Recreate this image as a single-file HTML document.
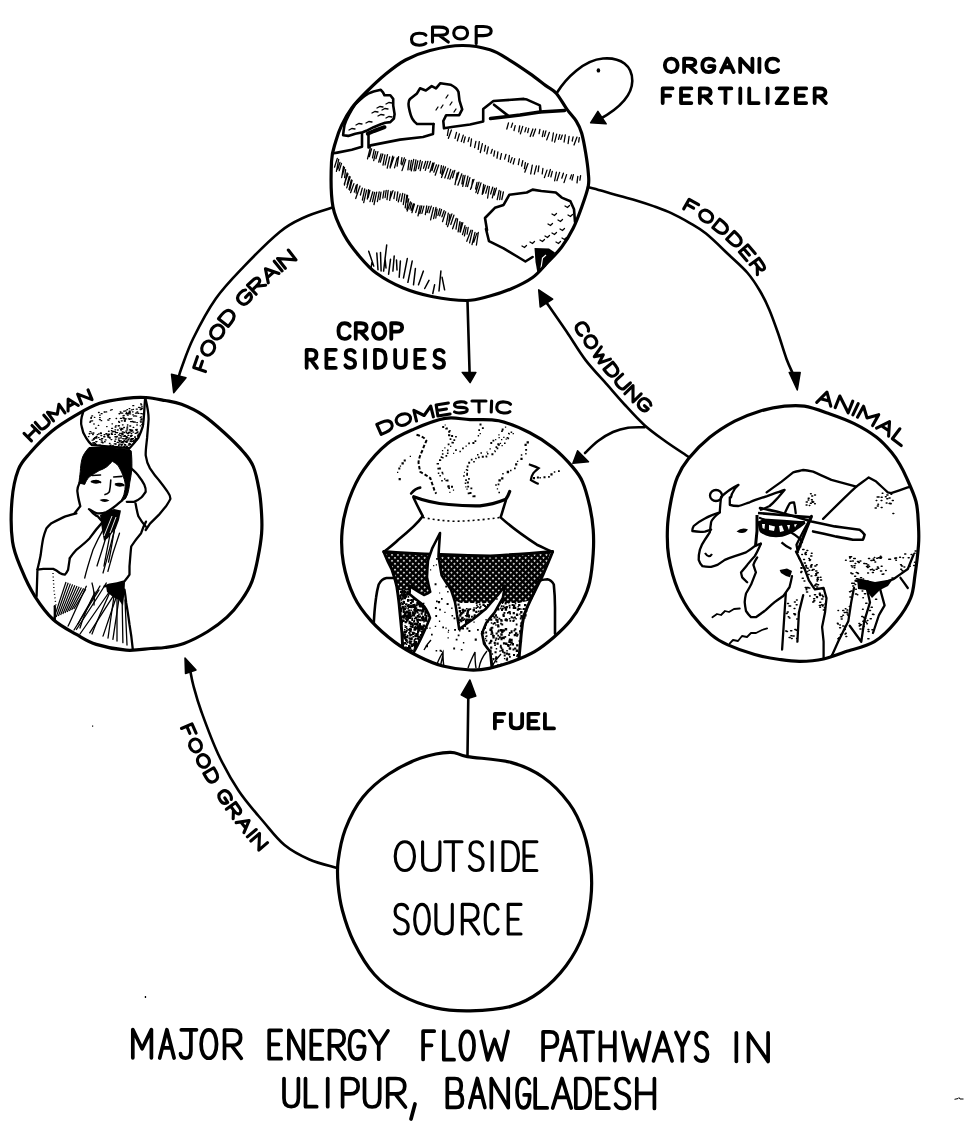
<!DOCTYPE html>
<html><head><meta charset="utf-8"><style>
html,body{margin:0;padding:0;background:#fff;width:964px;height:1129px;overflow:hidden}
svg{display:block}
path,ellipse,circle,polyline,line{vector-effect:non-scaling-stroke}
.t3 path{fill:none;stroke:#000;stroke-width:3.7;stroke-linecap:round;stroke-linejoin:round}
.t25 path{fill:none;stroke:#000;stroke-width:3.1;stroke-linecap:round;stroke-linejoin:round}
.t38 path{fill:none;stroke:#000;stroke-width:3.8;stroke-linecap:round;stroke-linejoin:round}
.c3 ellipse,.c3 path{fill:none;stroke:#000;stroke-width:3.2}
.a25 path{fill:none;stroke:#000;stroke-width:2.6;stroke-linecap:round}
.ah path{fill:#000;stroke:#000;stroke-width:1.5;stroke-linejoin:round}
</style></head><body>
<svg width="964" height="1129" viewBox="0 0 964 1129">
<g class="t3">
<path d="M0,100 L0,0 L31,68 L62,0 L62,100" transform="translate(132.80,1057.86) rotate(0.00) scale(0.3000,0.2830) translate(0,-100)"/>
<path d="M0,100 L26,0 L52,100 M10,64 L42,64" transform="translate(159.70,1058.01) rotate(0.00) scale(0.2769,0.2831) translate(0,-100)"/>
<path d="M2,0 L40,0 M26,0 L26,76 Q26,100 13,100 Q0,100 0,84" transform="translate(180.50,1058.13) rotate(0.00) scale(0.4000,0.2832) translate(0,-100)"/>
<path d="M26,0 C-9,0 -9,100 26,100 C61,100 61,0 26,0 Z" transform="translate(201.20,1058.25) rotate(0.00) scale(0.2942,0.2832) translate(0,-100)"/>
<path d="M0,100 L0,0 L22,0 Q46,0 46,27 Q46,54 22,54 L0,54 M20,54 L48,100" transform="translate(224.50,1058.39) rotate(0.00) scale(0.3500,0.2833) translate(0,-100)"/>
<path d="M44,0 L0,0 L0,100 L44,100 M0,50 L34,50" transform="translate(269.20,1058.63) rotate(0.00) scale(0.2727,0.2835) translate(0,-100)"/>
<path d="M0,100 L0,0 L50,100 L50,0" transform="translate(288.90,1058.76) rotate(0.00) scale(0.2880,0.2835) translate(0,-100)"/>
<path d="M44,0 L0,0 L0,100 L44,100 M0,50 L34,50" transform="translate(311.30,1058.88) rotate(0.00) scale(0.2545,0.2836) translate(0,-100)"/>
<path d="M0,100 L0,0 L22,0 Q46,0 46,27 Q46,54 22,54 L0,54 M20,54 L48,100" transform="translate(329.50,1058.99) rotate(0.00) scale(0.3188,0.2836) translate(0,-100)"/>
<path d="M48,16 Q42,0 26,0 Q0,0 0,50 Q0,100 26,100 Q50,100 50,56 L28,56" transform="translate(349.50,1059.11) rotate(0.00) scale(0.3040,0.2837) translate(0,-100)"/>
<path d="M0,0 L25,50 L50,0 M25,50 L25,100" transform="translate(369.50,1059.23) rotate(0.00) scale(0.3700,0.2838) translate(0,-100)"/>
<path d="M42,0 L0,0 L0,100 M0,50 L32,50" transform="translate(423.10,1059.52) rotate(0.00) scale(0.2643,0.2839) translate(0,-100)"/>
<path d="M0,0 L0,100 L40,100" transform="translate(443.80,1059.64) rotate(0.00) scale(0.2575,0.2840) translate(0,-100)"/>
<path d="M26,0 C-9,0 -9,100 26,100 C61,100 61,0 26,0 Z" transform="translate(460.40,1059.75) rotate(0.00) scale(0.2615,0.2841) translate(0,-100)"/>
<path d="M0,0 L16,100 L33,28 L50,100 L66,0" transform="translate(481.20,1059.91) rotate(0.00) scale(0.4061,0.2841) translate(0,-100)"/>
<path d="M0,100 L0,0 L22,0 Q46,0 46,27 Q46,54 22,54 L0,54" transform="translate(543.10,1060.23) rotate(0.00) scale(0.3130,0.2843) translate(0,-100)"/>
<path d="M0,100 L26,0 L52,100 M10,64 L42,64" transform="translate(560.50,1060.33) rotate(0.00) scale(0.2942,0.2844) translate(0,-100)"/>
<path d="M0,0 L50,0 M25,0 L25,100" transform="translate(578.00,1060.43) rotate(0.00) scale(0.3060,0.2844) translate(0,-100)"/>
<path d="M0,0 L0,100 M50,0 L50,100 M0,50 L50,50" transform="translate(600.40,1060.56) rotate(0.00) scale(0.2880,0.2845) translate(0,-100)"/>
<path d="M0,0 L16,100 L33,28 L50,100 L66,0" transform="translate(622.80,1060.73) rotate(0.00) scale(0.4076,0.2846) translate(0,-100)"/>
<path d="M0,100 L26,0 L52,100 M10,64 L42,64" transform="translate(653.50,1060.88) rotate(0.00) scale(0.3577,0.2847) translate(0,-100)"/>
<path d="M0,0 L25,50 L50,0 M25,50 L25,100" transform="translate(675.90,1060.99) rotate(0.00) scale(0.2560,0.2847) translate(0,-100)"/>
<path d="M44,14 Q38,0 23,0 Q2,0 2,24 Q2,44 23,50 Q46,56 46,76 Q46,100 23,100 Q6,100 0,86" transform="translate(695.50,1061.10) rotate(0.00) scale(0.2609,0.2848) translate(0,-100)"/>
<path d="M2,0 L2,100" transform="translate(735.78,1061.31) rotate(0.00) scale(0.2849,0.2849) translate(0,-100)"/>
<path d="M0,100 L0,0 L50,100 L50,0" transform="translate(748.50,1061.43) rotate(0.00) scale(0.3920,0.2850) translate(0,-100)"/>
<path d="M0,0 L0,70 Q0,100 25,100 Q50,100 50,70 L50,0" transform="translate(284.00,1106.55) rotate(0.00) scale(0.2880,0.2805) translate(0,-100)"/>
<path d="M0,0 L0,100 L40,100" transform="translate(305.50,1106.66) rotate(0.00) scale(0.2800,0.2816) translate(0,-100)"/>
<path d="M2,0 L2,100" transform="translate(327.14,1106.74) rotate(0.00) scale(0.2824,0.2824) translate(0,-100)"/>
<path d="M0,100 L0,0 L22,0 Q46,0 46,27 Q46,54 22,54 L0,54" transform="translate(342.60,1106.87) rotate(0.00) scale(0.3391,0.2837) translate(0,-100)"/>
<path d="M0,0 L0,70 Q0,100 25,100 Q50,100 50,70 L50,0" transform="translate(364.50,1106.98) rotate(0.00) scale(0.3040,0.2848) translate(0,-100)"/>
<path d="M0,100 L0,0 L22,0 Q46,0 46,27 Q46,54 22,54 L0,54 M20,54 L48,100" transform="translate(387.70,1107.11) rotate(0.00) scale(0.3708,0.2861) translate(0,-100)"/>
<path d="M0,0 L0,100 L28,100 Q48,100 48,75 Q48,50 26,50 L0,50 M26,50 Q44,50 44,25 Q44,0 24,0 L0,0" transform="translate(447.30,1107.42) rotate(0.00) scale(0.3167,0.2892) translate(0,-100)"/>
<path d="M0,100 L26,0 L52,100 M10,64 L42,64" transform="translate(469.70,1107.54) rotate(0.00) scale(0.2923,0.2904) translate(0,-100)"/>
<path d="M0,100 L0,0 L50,100 L50,0" transform="translate(491.30,1107.66) rotate(0.00) scale(0.3380,0.2916) translate(0,-100)"/>
<path d="M48,16 Q42,0 26,0 Q0,0 0,50 Q0,100 26,100 Q50,100 50,56 L28,56" transform="translate(517.00,1107.79) rotate(0.00) scale(0.2540,0.2929) translate(0,-100)"/>
<path d="M0,0 L0,100 L40,100" transform="translate(535.20,1107.89) rotate(0.00) scale(0.3000,0.2939) translate(0,-100)"/>
<path d="M0,100 L26,0 L52,100 M10,64 L42,64" transform="translate(552.70,1108.00) rotate(0.00) scale(0.3558,0.2950) translate(0,-100)"/>
<path d="M0,0 L0,100 L18,100 Q50,100 50,50 Q50,0 18,0 Z" transform="translate(575.80,1108.11) rotate(0.00) scale(0.2880,0.2961) translate(0,-100)"/>
<path d="M44,0 L0,0 L0,100 L44,100 M0,50 L34,50" transform="translate(597.00,1108.22) rotate(0.00) scale(0.2705,0.2972) translate(0,-100)"/>
<path d="M44,14 Q38,0 23,0 Q2,0 2,24 Q2,44 23,50 Q46,56 46,76 Q46,100 23,100 Q6,100 0,86" transform="translate(615.50,1108.32) rotate(0.00) scale(0.3043,0.2982) translate(0,-100)"/>
<path d="M0,0 L0,100 M50,0 L50,100 M0,50 L50,50" transform="translate(636.80,1108.44) rotate(0.00) scale(0.3520,0.2994) translate(0,-100)"/>
<path d="M415,1104 L411,1119"/>
</g>
<g class="t25">
<path d="M26,0 C-9,0 -9,100 26,100 C61,100 61,0 26,0 Z" transform="translate(395.30,870.50) rotate(0.00) scale(0.3673,0.2870) translate(0,-100)"/>
<path d="M0,0 L0,70 Q0,100 25,100 Q50,100 50,70 L50,0" transform="translate(422.60,870.50) rotate(0.00) scale(0.3460,0.2870) translate(0,-100)"/>
<path d="M0,0 L50,0 M25,0 L25,100" transform="translate(444.70,870.50) rotate(0.00) scale(0.3460,0.2870) translate(0,-100)"/>
<path d="M44,14 Q38,0 23,0 Q2,0 2,24 Q2,44 23,50 Q46,56 46,76 Q46,100 23,100 Q6,100 0,86" transform="translate(469.40,870.50) rotate(0.00) scale(0.2978,0.2870) translate(0,-100)"/>
<path d="M2,0 L2,100" transform="translate(491.58,870.50) rotate(0.00) scale(0.2870,0.2870) translate(0,-100)"/>
<path d="M0,0 L0,100 L18,100 Q50,100 50,50 Q50,0 18,0 Z" transform="translate(502.90,870.50) rotate(0.00) scale(0.3100,0.2870) translate(0,-100)"/>
<path d="M44,0 L0,0 L0,100 L44,100 M0,50 L34,50" transform="translate(524.00,870.50) rotate(0.00) scale(0.2932,0.2870) translate(0,-100)"/>
<path d="M44,14 Q38,0 23,0 Q2,0 2,24 Q2,44 23,50 Q46,56 46,76 Q46,100 23,100 Q6,100 0,86" transform="translate(394.50,934.00) rotate(0.00) scale(0.2978,0.2960) translate(0,-100)"/>
<path d="M26,0 C-9,0 -9,100 26,100 C61,100 61,0 26,0 Z" transform="translate(414.70,934.00) rotate(0.00) scale(0.2808,0.2960) translate(0,-100)"/>
<path d="M0,0 L0,70 Q0,100 25,100 Q50,100 50,70 L50,0" transform="translate(435.90,934.00) rotate(0.00) scale(0.3280,0.2960) translate(0,-100)"/>
<path d="M0,100 L0,0 L22,0 Q46,0 46,27 Q46,54 22,54 L0,54 M20,54 L48,100" transform="translate(462.30,934.00) rotate(0.00) scale(0.3417,0.2960) translate(0,-100)"/>
<path d="M48,16 Q42,0 26,0 Q0,0 0,50 Q0,100 26,100 Q42,100 48,84" transform="translate(485.20,934.00) rotate(0.00) scale(0.2688,0.2960) translate(0,-100)"/>
<path d="M44,0 L0,0 L0,100 L44,100 M0,50 L34,50" transform="translate(508.20,934.00) rotate(0.00) scale(0.2909,0.2960) translate(0,-100)"/>
</g>
<g class="t25">
</g><g class="t38">
<path d="M26,0 C-9,0 -9,100 26,100 C61,100 61,0 26,0 Z" transform="translate(664.90,72.10) rotate(0.00) scale(0.2441,0.1350) translate(0,-100)"/>
<path d="M0,100 L0,0 L22,0 Q46,0 46,27 Q46,54 22,54 L0,54 M20,54 L48,100" transform="translate(684.09,72.10) rotate(0.00) scale(0.2441,0.1350) translate(0,-100)"/>
<path d="M48,16 Q42,0 26,0 Q0,0 0,50 Q0,100 26,100 Q50,100 50,56 L28,56" transform="translate(702.31,72.10) rotate(0.00) scale(0.2441,0.1350) translate(0,-100)"/>
<path d="M0,100 L26,0 L52,100 M10,64 L42,64" transform="translate(721.01,72.10) rotate(0.00) scale(0.2441,0.1350) translate(0,-100)"/>
<path d="M0,100 L0,0 L50,100 L50,0" transform="translate(740.20,72.10) rotate(0.00) scale(0.2441,0.1350) translate(0,-100)"/>
<path d="M2,0 L2,100" transform="translate(758.91,72.10) rotate(0.00) scale(0.2441,0.1350) translate(0,-100)"/>
<path d="M48,16 Q42,0 26,0 Q0,0 0,50 Q0,100 26,100 Q42,100 48,84" transform="translate(766.38,72.10) rotate(0.00) scale(0.2441,0.1350) translate(0,-100)"/>
<path d="M42,0 L0,0 L0,100 M0,50 L32,50" transform="translate(662.70,103.10) rotate(0.00) scale(0.2343,0.1470) translate(0,-100)"/>
<path d="M44,0 L0,0 L0,100 L44,100 M0,50 L34,50" transform="translate(681.04,103.10) rotate(0.00) scale(0.2343,0.1470) translate(0,-100)"/>
<path d="M0,100 L0,0 L22,0 Q46,0 46,27 Q46,54 22,54 L0,54 M20,54 L48,100" transform="translate(699.85,103.10) rotate(0.00) scale(0.2343,0.1470) translate(0,-100)"/>
<path d="M0,0 L50,0 M25,0 L25,100" transform="translate(719.60,103.10) rotate(0.00) scale(0.2343,0.1470) translate(0,-100)"/>
<path d="M2,0 L2,100" transform="translate(739.82,103.10) rotate(0.00) scale(0.2343,0.1470) translate(0,-100)"/>
<path d="M0,0 L0,100 L40,100" transform="translate(749.25,103.10) rotate(0.00) scale(0.2343,0.1470) translate(0,-100)"/>
<path d="M2,0 L2,100" transform="translate(767.13,103.10) rotate(0.00) scale(0.2343,0.1470) translate(0,-100)"/>
<path d="M0,0 L46,0 L0,100 L46,100" transform="translate(776.56,103.10) rotate(0.00) scale(0.2343,0.1470) translate(0,-100)"/>
<path d="M44,0 L0,0 L0,100 L44,100 M0,50 L34,50" transform="translate(795.84,103.10) rotate(0.00) scale(0.2343,0.1470) translate(0,-100)"/>
<path d="M0,100 L0,0 L22,0 Q46,0 46,27 Q46,54 22,54 L0,54 M20,54 L48,100" transform="translate(814.65,103.10) rotate(0.00) scale(0.2343,0.1470) translate(0,-100)"/>
<path d="M48,16 Q42,0 26,0 Q0,0 0,50 Q0,100 26,100 Q42,100 48,84" transform="translate(338.45,338.85) rotate(0.00) scale(0.2356,0.1560) translate(0,-100)"/>
<path d="M0,100 L0,0 L22,0 Q46,0 46,27 Q46,54 22,54 L0,54 M20,54 L48,100" transform="translate(355.76,338.85) rotate(0.00) scale(0.2356,0.1560) translate(0,-100)"/>
<path d="M26,0 C-9,0 -9,100 26,100 C61,100 61,0 26,0 Z" transform="translate(373.06,338.85) rotate(0.00) scale(0.2356,0.1560) translate(0,-100)"/>
<path d="M0,100 L0,0 L22,0 Q46,0 46,27 Q46,54 22,54 L0,54" transform="translate(391.31,338.85) rotate(0.00) scale(0.2356,0.1560) translate(0,-100)"/>
<path d="M0,100 L0,0 L22,0 Q46,0 46,27 Q46,54 22,54 L0,54 M20,54 L48,100" transform="translate(306.65,367.85) rotate(0.00) scale(0.2136,0.1800) translate(0,-100)"/>
<path d="M44,0 L0,0 L0,100 L44,100 M0,50 L34,50" transform="translate(326.40,367.85) rotate(0.00) scale(0.2136,0.1800) translate(0,-100)"/>
<path d="M44,14 Q38,0 23,0 Q2,0 2,24 Q2,44 23,50 Q46,56 46,76 Q46,100 23,100 Q6,100 0,86" transform="translate(345.30,367.85) rotate(0.00) scale(0.2136,0.1800) translate(0,-100)"/>
<path d="M2,0 L2,100" transform="translate(364.62,367.85) rotate(0.00) scale(0.2136,0.1800) translate(0,-100)"/>
<path d="M0,0 L0,100 L18,100 Q50,100 50,50 Q50,0 18,0 Z" transform="translate(374.97,367.85) rotate(0.00) scale(0.2136,0.1800) translate(0,-100)"/>
<path d="M0,0 L0,70 Q0,100 25,100 Q50,100 50,70 L50,0" transform="translate(395.15,367.85) rotate(0.00) scale(0.2136,0.1800) translate(0,-100)"/>
<path d="M44,0 L0,0 L0,100 L44,100 M0,50 L34,50" transform="translate(415.33,367.85) rotate(0.00) scale(0.2136,0.1800) translate(0,-100)"/>
<path d="M44,14 Q38,0 23,0 Q2,0 2,24 Q2,44 23,50 Q46,56 46,76 Q46,100 23,100 Q6,100 0,86" transform="translate(434.23,367.85) rotate(0.00) scale(0.2136,0.1800) translate(0,-100)"/>
<path d="M42,0 L0,0 L0,100 M0,50 L32,50" transform="translate(494.90,728.40) rotate(0.00) scale(0.2267,0.1460) translate(0,-100)"/>
<path d="M0,0 L0,70 Q0,100 25,100 Q50,100 50,70 L50,0" transform="translate(510.82,728.40) rotate(0.00) scale(0.2267,0.1460) translate(0,-100)"/>
<path d="M44,0 L0,0 L0,100 L44,100 M0,50 L34,50" transform="translate(528.56,728.40) rotate(0.00) scale(0.2267,0.1460) translate(0,-100)"/>
<path d="M0,0 L0,100 L40,100" transform="translate(544.93,728.40) rotate(0.00) scale(0.2267,0.1460) translate(0,-100)"/>
</g><g class="t25">
<path d="M42,0 L0,0 L0,100 M0,50 L32,50" transform="translate(205.53,371.54) rotate(-70.99) scale(0.2728,0.1250) translate(0,-100)"/>
<path d="M26,0 C-9,0 -9,100 26,100 C61,100 61,0 26,0 Z" transform="translate(210.66,357.29) rotate(-63.95) scale(0.2728,0.1250) translate(0,-100)"/>
<path d="M26,0 C-9,0 -9,100 26,100 C61,100 61,0 26,0 Z" transform="translate(218.70,341.35) rotate(-57.61) scale(0.2728,0.1250) translate(0,-100)"/>
<path d="M0,0 L0,100 L18,100 Q50,100 50,50 Q50,0 18,0 Z" transform="translate(228.39,326.40) rotate(-52.51) scale(0.2728,0.1250) translate(0,-100)"/>
<path d="M48,16 Q42,0 26,0 Q0,0 0,50 Q0,100 26,100 Q50,100 50,56 L28,56" transform="translate(244.28,306.72) rotate(-46.72) scale(0.2728,0.1250) translate(0,-100)"/>
<path d="M0,100 L0,0 L22,0 Q46,0 46,27 Q46,54 22,54 L0,54 M20,54 L48,100" transform="translate(256.16,294.25) rotate(-43.62) scale(0.2728,0.1250) translate(0,-100)"/>
<path d="M0,100 L26,0 L52,100 M10,64 L42,64" transform="translate(268.28,282.82) rotate(-40.96) scale(0.2728,0.1250) translate(0,-100)"/>
<path d="M2,0 L2,100" transform="translate(281.72,271.25) rotate(-39.44) scale(0.2728,0.1250) translate(0,-100)"/>
<path d="M0,100 L0,0 L50,100 L50,0" transform="translate(285.31,268.33) rotate(-38.11) scale(0.2728,0.1250) translate(0,-100)"/>
<path d="M42,0 L0,0 L0,100 M0,50 L32,50" transform="translate(683.70,208.87) rotate(29.75) scale(0.2591,0.1100) translate(0,-100)"/>
<path d="M26,0 C-9,0 -9,100 26,100 C61,100 61,0 26,0 Z" transform="translate(697.51,216.97) rotate(34.25) scale(0.2591,0.1100) translate(0,-100)"/>
<path d="M0,0 L0,100 L18,100 Q50,100 50,50 Q50,0 18,0 Z" transform="translate(712.76,227.63) rotate(39.25) scale(0.2591,0.1100) translate(0,-100)"/>
<path d="M0,0 L0,100 L18,100 Q50,100 50,50 Q50,0 18,0 Z" transform="translate(726.63,239.25) rotate(44.32) scale(0.2591,0.1100) translate(0,-100)"/>
<path d="M44,0 L0,0 L0,100 L44,100 M0,50 L34,50" transform="translate(739.41,252.05) rotate(49.18) scale(0.2591,0.1100) translate(0,-100)"/>
<path d="M0,100 L0,0 L22,0 Q46,0 46,27 Q46,54 22,54 L0,54 M20,54 L48,100" transform="translate(750.06,264.69) rotate(53.88) scale(0.2591,0.1100) translate(0,-100)"/>
<path d="M48,16 Q42,0 26,0 Q0,0 0,50 Q0,100 26,100 Q42,100 48,84" transform="translate(574.20,326.99) rotate(57.26) scale(0.2322,0.1150) translate(0,-100)"/>
<path d="M26,0 C-9,0 -9,100 26,100 C61,100 61,0 26,0 Z" transform="translate(582.68,340.08) rotate(55.59) scale(0.2322,0.1150) translate(0,-100)"/>
<path d="M0,0 L16,100 L33,28 L50,100 L66,0" transform="translate(592.07,353.66) rotate(53.42) scale(0.2322,0.1150) translate(0,-100)"/>
<path d="M0,0 L0,100 L18,100 Q50,100 50,50 Q50,0 18,0 Z" transform="translate(603.93,369.46) rotate(50.94) scale(0.2322,0.1150) translate(0,-100)"/>
<path d="M0,0 L0,70 Q0,100 25,100 Q50,100 50,70 L50,0" transform="translate(614.11,381.85) rotate(48.35) scale(0.2322,0.1150) translate(0,-100)"/>
<path d="M0,100 L0,0 L50,100 L50,0" transform="translate(624.84,393.75) rotate(45.33) scale(0.2322,0.1150) translate(0,-100)"/>
<path d="M48,16 Q42,0 26,0 Q0,0 0,50 Q0,100 26,100 Q50,100 50,56 L28,56" transform="translate(636.19,405.04) rotate(41.78) scale(0.2322,0.1150) translate(0,-100)"/>
<path d="M42,0 L0,0 L0,100 M0,50 L32,50" transform="translate(181.46,728.48) rotate(66.24) scale(0.2433,0.1150) translate(0,-100)"/>
<path d="M26,0 C-9,0 -9,100 26,100 C61,100 61,0 26,0 Z" transform="translate(187.64,742.32) rotate(64.15) scale(0.2433,0.1150) translate(0,-100)"/>
<path d="M26,0 C-9,0 -9,100 26,100 C61,100 61,0 26,0 Z" transform="translate(195.40,758.11) rotate(61.89) scale(0.2433,0.1150) translate(0,-100)"/>
<path d="M0,0 L0,100 L18,100 Q50,100 50,50 Q50,0 18,0 Z" transform="translate(203.78,773.58) rotate(59.63) scale(0.2433,0.1150) translate(0,-100)"/>
<path d="M48,16 Q42,0 26,0 Q0,0 0,50 Q0,100 26,100 Q50,100 50,56 L28,56" transform="translate(216.77,795.03) rotate(56.37) scale(0.2433,0.1150) translate(0,-100)"/>
<path d="M0,100 L0,0 L22,0 Q46,0 46,27 Q46,54 22,54 L0,54 M20,54 L48,100" transform="translate(226.33,809.22) rotate(54.18) scale(0.2433,0.1150) translate(0,-100)"/>
<path d="M0,100 L26,0 L52,100 M10,64 L42,64" transform="translate(236.13,822.64) rotate(51.98) scale(0.2433,0.1150) translate(0,-100)"/>
<path d="M2,0 L2,100" transform="translate(247.05,836.46) rotate(50.48) scale(0.2433,0.1150) translate(0,-100)"/>
<path d="M0,100 L0,0 L50,100 L50,0" transform="translate(250.85,841.01) rotate(49.03) scale(0.2433,0.1150) translate(0,-100)"/>
<path d="M0,0 L0,100 M50,0 L50,100 M0,50 L50,50" transform="translate(31.47,440.85) rotate(-44.94) scale(0.2248,0.1050) translate(0,-100)"/>
<path d="M0,0 L0,70 Q0,100 25,100 Q50,100 50,70 L50,0" transform="translate(42.08,430.45) rotate(-40.44) scale(0.2248,0.1050) translate(0,-100)"/>
<path d="M0,100 L0,0 L31,68 L62,0 L62,100" transform="translate(53.50,420.92) rotate(-34.87) scale(0.2248,0.1050) translate(0,-100)"/>
<path d="M0,100 L26,0 L52,100 M10,64 L42,64" transform="translate(68.05,411.04) rotate(-28.57) scale(0.2248,0.1050) translate(0,-100)"/>
<path d="M0,100 L0,0 L50,100 L50,0" transform="translate(81.62,403.87) rotate(-22.29) scale(0.2248,0.1050) translate(0,-100)"/>
<path d="M0,0 L0,100 L18,100 Q50,100 50,50 Q50,0 18,0 Z" transform="translate(381.20,434.42) rotate(-23.67) scale(0.2802,0.1100) translate(0,-100)"/>
<path d="M26,0 C-9,0 -9,100 26,100 C61,100 61,0 26,0 Z" transform="translate(398.32,427.11) rotate(-19.10) scale(0.2802,0.1100) translate(0,-100)"/>
<path d="M0,100 L0,0 L31,68 L62,0 L62,100" transform="translate(416.52,421.01) rotate(-13.99) scale(0.2802,0.1100) translate(0,-100)"/>
<path d="M44,0 L0,0 L0,100 L44,100 M0,50 L34,50" transform="translate(437.90,415.91) rotate(-9.13) scale(0.2802,0.1100) translate(0,-100)"/>
<path d="M44,14 Q38,0 23,0 Q2,0 2,24 Q2,44 23,50 Q46,56 46,76 Q46,100 23,100 Q6,100 0,86" transform="translate(454.64,413.39) rotate(-4.89) scale(0.2802,0.1100) translate(0,-100)"/>
<path d="M0,0 L50,0 M25,0 L25,100" transform="translate(472.08,412.07) rotate(-0.59) scale(0.2802,0.1100) translate(0,-100)"/>
<path d="M2,0 L2,100" transform="translate(490.65,412.05) rotate(2.20) scale(0.2802,0.1100) translate(0,-100)"/>
<path d="M48,16 Q42,0 26,0 Q0,0 0,50 Q0,100 26,100 Q42,100 48,84" transform="translate(496.33,412.32) rotate(4.82) scale(0.2802,0.1100) translate(0,-100)"/>
<path d="M0,100 L26,0 L52,100 M10,64 L42,64" transform="translate(816.73,402.43) rotate(14.82) scale(0.2794,0.1250) translate(0,-100)"/>
<path d="M0,100 L0,0 L50,100 L50,0" transform="translate(835.19,407.62) rotate(21.61) scale(0.2794,0.1250) translate(0,-100)"/>
<path d="M2,0 L2,100" transform="translate(852.36,414.67) rotate(25.38) scale(0.2794,0.1250) translate(0,-100)"/>
<path d="M0,100 L0,0 L31,68 L62,0 L62,100" transform="translate(857.48,417.17) rotate(29.09) scale(0.2794,0.1250) translate(0,-100)"/>
<path d="M0,100 L26,0 L52,100 M10,64 L42,64" transform="translate(876.54,428.02) rotate(33.80) scale(0.2794,0.1250) translate(0,-100)"/>
<path d="M0,0 L0,100 L40,100" transform="translate(892.33,438.77) rotate(37.11) scale(0.2794,0.1250) translate(0,-100)"/>
<path d="M48,16 Q42,0 26,0 Q0,0 0,50 Q0,100 26,100 Q42,100 48,84" transform="translate(411.50,45.20) rotate(0.00) scale(0.3000,0.1190) translate(0,-100)"/>
<path d="M0,100 L0,0 L22,0 Q46,0 46,27 Q46,54 22,54 L0,54 M20,54 L48,100" transform="translate(432.50,42.10) rotate(0.00) scale(0.3292,0.1500) translate(0,-100)"/>
<path d="M26,0 C-9,0 -9,100 26,100 C61,100 61,0 26,0 Z" transform="translate(453.80,39.00) rotate(0.00) scale(0.2635,0.1190) translate(0,-100)"/>
<path d="M0,100 L0,0 L22,0 Q46,0 46,27 Q46,54 22,54 L0,54" transform="translate(476.20,43.40) rotate(0.00) scale(0.3261,0.1690) translate(0,-100)"/>
</g>
<g fill="none" stroke="#000" stroke-width="2.6" stroke-linejoin="round" stroke-linecap="round">
<path d="M343.1,135.2 C343.5,131 344,128 344.5,125 C345.8,121 347.3,118 348.9,114.9 C351,111 353,107.5 355.4,104 C357.8,101.7 360.2,99.5 362.7,97.4 C364.5,96 366.2,94.8 367.8,93.8 C369.8,93 371.7,92.2 373.6,91.6 L380.8,89.8 L383,92.3 L384.5,95.3 L390.3,95.3 L393.2,98.9 L393.2,105.4 L394.6,114.1 L393.9,118.5 L390.3,122.1 L385.2,122.8 L380.8,124.3 L373.6,127.2 L366.3,130.8 L362.7,132.3 L355.4,133.7 L348.2,135.9 Z"/>
<path d="M333.6,153.3 L337.3,152.6 L351.8,149.7 L362,146.8 L362,133.7"/>
<path d="M368.5,135.2 L368.5,147.5 L370.7,145.4 L400,139.6 L423,137 L433,134 L433.5,124"/>
<path d="M367.8,133.7 L374,131 L384.5,127.2" stroke-width="4"/>
<path d="M433.5,124 L417,124 C413,121 411,118 409,108 C408,103 409,100 410,99 L417,93.4 L420,88.3 L425.8,90.5 L431.7,86.1 L436,88.3 L440.4,83.2 L450.5,84.7 C455,87 457.5,89 458.5,92 L459.5,100.7 L462.2,109.4 L459.2,115.2 L446.2,115.2 L443.3,121 L444,128.3 L453.4,126.8 L470,124.5 L483.2,121.4 L483.2,109 L493.4,101 L523.9,98.9 L527,99.6 L539.9,105.4 L540.6,112"/>
<path d="M494,104.7 L508,115.6"/>
<path d="M490.5,118.5 L520,115 L540,112 L564.6,110.5" stroke-width="3.4"/>
<path d="M487,230 L485,218 L494.9,207.8 L503.6,204.9 L509.4,194.7 L526.8,192.5 L532.6,189.6 L541.3,191 L555.8,192.5 L561.7,197.6 L570.4,201.2 L574,209.2 L575,222"/>
<path d="M486,229 L489,241.2 L503.6,248.4 L518,257 L525.4,261.5 L532.6,257"/>
</g>
<path d="M534.5,248 L549,248.5 L555,252.5 L546,266.5 L537.5,273 L535.5,262 Z" fill="#000"/>
<path d="M541,268 L542.5,258 L546,255" fill="none" stroke="#fff" stroke-width="1.2"/>
<g fill="none" stroke="#000" stroke-width="1.3" stroke-linecap="round">
<path d="M377,108 l3,-1.5 l3,0.5"/>
<path d="M382,110 l3,-1.5 l3,0.5"/>
<path d="M372,113 l3,-1.5 l3,0.5"/>
<path d="M386,104 l3,-1.5 l3,0.5"/>
<path d="M378,116 l3,-1.5 l3,0.5"/>
<path d="M366,123 l3,-1.5 l3,0.5"/>
<path d="M356,125 l3,-1.5 l3,0.5"/>
<path d="M349,130 l3,-1.5 l3,0.5"/>
<path d="M386,118 l3,-1.5 l3,0.5"/>
<path d="M446,98 l2,-3"/>
<path d="M450,105 l2,-3"/>
<path d="M441,108 l2,-3"/>
<path d="M454,112 l2,-3"/>
<path d="M436,110 l2,-3"/>
<path d="M552,214 l2.5,1.5 l2,-2"/>
<path d="M558,220 l2.5,1.5 l2,-2"/>
<path d="M548,224 l2.5,1.5 l2,-2"/>
<path d="M560,229 l2.5,1.5 l2,-2"/>
<path d="M552,233 l2.5,1.5 l2,-2"/>
<path d="M545,236 l2.5,1.5 l2,-2"/>
<path d="M562,238 l2.5,1.5 l2,-2"/>
<path d="M556,242 l2.5,1.5 l2,-2"/>
<path d="M540,240 l2.5,1.5 l2,-2"/>
<path d="M530,242 l2.5,1.5 l2,-2"/>
<path d="M522,246 l2.5,1.5 l2,-2"/>
<path d="M565,206 l2.5,1.5 l2,-2"/>
<path d="M568,215 l2.5,1.5 l2,-2"/>
</g>
<g fill="none" stroke="#000" stroke-width="1.3" stroke-linecap="round">
<path d="M508.5,122.8 l-1.7,6.2 M512.6,123.1 l-1.4,4.3 M515.2,125.6 l-1.2,4.9 M519.7,125.9 l-1.0,5.9 M522.7,126.4 l-2.3,7.5 M526.1,127.6 l-1.2,4.3 M528.7,128.4 l-1.0,4.1 M532.9,129.0 l-2.7,7.5 M535.6,129.0 l-2.6,7.2 M539.9,129.3 l-0.8,4.4 M543.5,131.0 l-1.2,5.7 M545.9,130.9 l-1.5,5.5 M549.4,132.3 l-2.7,7.6 M553.4,133.0 l-1.3,8.0 M556.7,134.2 l-2.1,7.9 M559.8,134.6 l-1.3,4.8 M562.3,135.1 l-1.6,4.3 M565.3,134.8 l-1.2,7.2 M569.1,136.4 l-1.0,7.1 M573.1,136.8 l-0.9,4.2 M577.0,137.1 l-3.0,7.9 M579.3,137.7 l-0.6,4.3"/>
<path d="M448.4,129.4 l-1.0,6.0 M451.4,130.0 l-3.0,8.3 M456.5,132.4 l-1.5,5.9 M459.4,133.8 l-2.0,7.0 M463.3,135.1 l-2.0,6.5 M465.2,137.0 l-1.4,5.5 M469.2,137.5 l-1.1,4.1 M471.5,139.0 l-1.0,7.1 M475.9,141.3 l-1.3,6.3 M479.3,141.7 l-1.1,7.7 M482.4,143.7 l-2.1,8.8 M485.5,145.5 l-1.1,5.6 M488.3,146.8 l-1.5,7.0 M492.3,149.3 l-1.3,4.1 M494.7,150.9 l-0.9,5.1 M497.9,151.9 l-0.9,6.2 M501.5,153.6 l-1.3,5.7 M506.0,154.3 l-1.4,4.8 M509.4,155.4 l-1.0,6.3 M512.1,157.6 l-1.7,5.0 M514.7,158.6 l-1.5,5.4 M519.4,159.0 l-1.1,5.7 M522.8,160.6 l-1.2,5.4 M525.4,162.7 l-1.0,6.0 M528.0,163.5 l-3.2,8.7 M532.3,165.1 l-1.6,8.8 M536.4,166.0 l-2.1,8.2 M538.9,165.9 l-0.8,5.7 M542.9,168.5 l-0.7,5.4 M547.0,170.1 l-2.6,7.5 M550.4,169.5 l-2.1,6.9 M552.3,171.4 l-1.4,5.5 M556.4,172.1 l-1.8,8.7 M559.6,172.4 l-2.7,8.3 M563.4,173.2 l-1.6,5.0 M566.6,174.6 l-2.6,8.0 M571.5,174.9 l-1.4,4.0 M573.4,174.6 l-1.4,5.4 M577.8,176.4 l-0.8,6.4 M580.6,175.6 l-0.7,4.6"/>
<path d="M370.3,147.7 l-2.8,11.1 M371.6,148.8 l-2.3,7.9 M374.2,149.6 l-1.7,8.2 M375.8,151.4 l-2.1,9.3 M377.9,151.6 l-2.0,7.1 M381.0,153.9 l-2.3,8.3 M382.8,154.0 l-2.5,8.2 M384.9,154.9 l-1.9,10.2 M387.5,154.6 l-2.4,10.2 M389.7,156.8 l-2.5,11.3 M392.7,156.1 l-2.6,10.7 M393.9,157.1 l-3.8,10.9 M397.2,157.9 l-2.7,10.0 M398.6,156.7 l-1.5,9.5 M401.9,157.6 l-0.9,6.3 M404.4,157.9 l-2.4,7.1 M405.7,159.5 l-3.7,11.1 M409.2,160.4 l-1.3,9.5 M411.4,160.5 l-1.4,9.1 M413.7,159.3 l-2.4,11.6 M415.9,159.8 l-1.9,11.0 M417.8,161.0 l-2.2,9.7 M420.4,160.3 l-1.9,8.4 M422.3,161.7 l-2.1,9.0 M425.7,161.3 l-2.2,7.0 M427.9,161.3 l-2.6,9.1 M430.5,161.4 l-2.2,6.9 M432.8,163.0 l-2.8,9.1 M434.1,162.9 l-2.1,7.6 M436.5,164.8 l-2.7,7.4 M438.7,165.0 l-3.5,10.2 M441.4,165.6 l-1.0,7.6 M443.5,166.2 l-1.8,8.3 M445.5,166.9 l-4.0,10.6 M448.0,168.4 l-3.2,9.6 M450.7,169.4 l-2.9,9.3 M453.0,170.8 l-3.1,8.4 M454.8,170.4 l-2.2,7.4 M457.2,172.8 l-2.2,11.8 M458.8,172.2 l-2.3,7.6 M461.8,173.8 l-3.9,11.4 M463.2,175.4 l-1.3,8.5 M465.1,175.4 l-2.4,11.0 M467.9,176.2 l-2.1,10.1 M469.9,177.6 l-2.4,8.9 M472.7,179.6 l-1.3,8.3 M474.0,179.4 l-3.5,10.0 M477.0,182.4 l-1.4,6.6 M479.0,182.1 l-3.1,10.5 M481.0,182.9 l-3.4,10.8 M483.7,184.4 l-1.5,10.0 M485.3,185.4 l-2.4,8.1 M487.7,186.1 l-2.0,7.1 M489.4,186.7 l-1.8,11.3 M492.7,187.2 l-2.1,6.8 M494.5,188.5 l-2.2,9.3 M496.4,188.0 l-2.1,7.1 M499.2,190.4 l-2.0,9.3 M500.8,191.2 l-1.1,8.3 M503.4,192.0 l-1.6,7.5"/>
<path d="M337.3,158.4 l-2.8,8.8 M338.7,159.4 l-2.3,11.9 M340.0,162.3 l-2.1,6.8 M341.5,163.4 l-2.3,7.3 M343.5,166.3 l-1.8,11.2 M344.5,167.5 l-2.0,7.4 M345.6,169.7 l-1.0,7.8 M347.1,172.8 l-2.7,12.2 M348.0,173.9 l-3.7,10.1 M349.2,176.5 l-2.0,8.1 M350.2,176.8 l-3.5,11.1 M351.3,179.9 l-2.3,9.4 M352.1,180.4 l-2.4,9.7 M353.9,183.6 l-3.3,9.1 M356.3,185.2 l-2.0,6.9 M357.3,184.5 l-1.2,8.5 M360.0,186.0 l-4.3,12.5 M362.3,188.1 l-1.9,6.9 M364.7,189.0 l-2.3,11.0 M366.6,190.2 l-2.9,12.5 M368.6,189.6 l-1.3,9.4 M369.9,190.3 l-1.8,7.4 M372.8,191.8 l-2.8,9.8 M374.6,192.4 l-2.1,9.3 M376.7,192.2 l-2.7,12.3 M379.2,191.8 l-1.8,9.7 M381.0,192.1 l-1.2,7.5 M384.0,190.8 l-1.2,7.4 M386.2,190.3 l-1.1,7.2 M388.2,190.3 l-1.2,9.4 M390.9,191.4 l-1.2,8.9 M393.0,190.6 l-3.2,8.8 M395.0,192.0 l-1.1,6.7 M397.8,191.9 l-1.2,8.4 M400.2,193.9 l-1.9,7.9 M402.7,193.4 l-1.6,8.1 M404.8,194.1 l-1.5,10.4 M406.8,195.1 l-1.6,12.8 M407.6,195.4 l-0.9,6.6 M408.7,198.9 l-1.9,10.6 M410.5,201.8 l-3.3,9.3 M411.6,202.8 l-1.7,6.2 M413.4,203.8 l-2.2,6.6 M414.5,204.0 l-2.6,8.7 M417.9,205.3 l-2.2,7.2 M420.1,205.9 l-2.1,9.9 M421.8,205.9 l-1.9,7.6 M423.9,206.1 l-2.0,7.2 M426.7,206.0 l-1.4,8.7 M429.0,206.3 l-1.9,6.2 M431.3,206.1 l-2.2,6.7 M433.5,207.7 l-2.9,12.1 M436.0,207.5 l-2.4,11.1 M437.1,209.2 l-1.3,8.8 M439.8,208.6 l-1.9,6.8 M441.5,209.5 l-1.8,6.3 M444.1,210.7 l-2.2,6.1 M445.7,211.8 l-3.2,9.9 M448.3,213.1 l-2.0,11.5 M449.9,214.4 l-1.0,6.6 M451.9,213.9 l-4.4,12.8 M453.9,215.2 l-3.1,9.3 M456.2,218.3 l-3.6,10.5 M457.6,218.9 l-1.6,10.2 M459.9,221.6 l-1.8,10.2 M461.3,222.6 l-1.3,9.2 M462.8,222.7 l-2.5,9.4 M465.0,225.7 l-2.5,9.0 M466.2,227.4 l-1.8,8.5 M468.2,227.5 l-1.1,6.6 M470.9,230.2 l-4.1,11.1 M472.5,230.3 l-2.9,12.5 M475.0,232.4 l-3.0,12.3 M476.8,233.4 l-3.1,8.8 M478.3,232.5 l-1.9,12.5"/>
<path stroke-width="1.5" d="M368.7,251.2 L373.7,266.1 M376.8,253 L378,269.8 M380.5,252.4 L381.1,271.1 M386.7,245 L383.6,271.1 M390.5,259.3 L388.6,274.2 M394.2,256.1 L392.9,271.1 M396.5,260 L397,270 M400.4,261.1 L399.2,277.3 M407.3,258.6 L403.5,277.9 M412.2,261.1 L407.9,282.3 M415.4,268.6 L413.5,284.8 M423.4,271.1 L418.5,284.8 M429,280.4 L424.7,288.5 M434.6,284.8 L432.8,293.5 M440.9,271.1 L439,291 M442.1,277.3 L444.6,289.8 M372,262 L371,268 M385,258 L386,268"/>
</g>
<g fill="none" stroke="#000" stroke-width="2.3" stroke-linejoin="round" stroke-linecap="round">
<path d="M83.2,412 C81,418 80.8,424 81.8,427 C82.5,432 84,435 86.1,437.9 C88,441 90,443.5 92,445.2 L110.8,446.6 L129.7,448.1 C133,444 136,441 138.4,437.9 C141,432 142,429 142.8,426.3 C143.8,420 144,415 144.2,411.8 L145,399.5"/>
<path d="M145.7,399.5 C147.5,407 148.6,413 148.6,419 C148.2,426 147.5,432 147.1,437.9 C146.5,444 145.5,450 145.7,455.3 C146.5,461 148,465 150,468.4 C153,473 156,477 158.8,480 C162,484 165,488 167.5,491.7 C169.5,494.5 170.5,496.5 170.4,498.9 C169,502 167.5,504 166,506.2 L158.8,514.9 L150,523.6 L145.7,530"/>
<path d="M131.2,468.4 C134,471 136.5,473 138.4,475.7 C141,479 143,482 144.2,484.4 C145.5,487.5 146,490 145.7,491.7 C144,494 143,496 141.3,497.5 C139,499.5 136.5,501 134,501.8 L126.8,501.8"/>
<path d="M135.5,503.3 C136.5,508 137,512 138.4,516.3 C140.5,520 143,523.5 145.7,526.5"/>
<path d="M79.5,483 C77.5,487 77.2,490 77.4,491.7 C77.8,495 78.3,498 78.9,500.4 L80.3,506.2 C78,509 76.5,511 74.5,513.4"/>
<path d="M89,509.1 C92,511 95,513 97.8,513.4 C101,513.6 104,513 106.5,512 C110,510 113,508 115.2,506.2 C118,504 120,502 122.4,500.4"/>
<path d="M90.5,510.5 C93,513.5 95,515.5 97.8,516.3 C100,519 101,520.5 103,521.6"/>
</g>
<path fill="#000" stroke="#000" stroke-width="1" d="M89,447.5 C85,452 82.5,456 81.8,459.7 C80.8,464 80.5,468 80.3,471.3 C79.8,476 79.2,480 78.9,483 L84.7,484.4 C86,481 87.5,479 89,477.1 C92.5,474.5 96,472.5 99.2,470.6 C102,469.5 104.5,468.5 106.5,467 C109,465 110.8,463 112.3,461.2 C114.5,462.5 116.5,464 118.1,465.5 C120,469 121.5,471.5 122.4,474.2 C124,478 124.8,481 125.3,484.4 C125.3,488 124.8,491 123.9,494.6 C123,497 122,499 121,500.4 L125.3,498.9 C126.8,496.5 127.8,494 128.3,491.7 C129,488 129.5,485.5 129.7,483 C130.7,478 131.5,473 131.9,468.4 C132,462 131.8,456 131.2,451 L129.7,449.5 L110,447.5 Z"/>
<g fill="none" stroke="#000" stroke-width="1.6" stroke-linecap="round">
<path d="M91.5,481.5 Q96,479.5 100.5,482.5"/><path d="M115.5,484 Q119.5,482.5 123.5,485.5"/>
<path d="M92,475.5 L100.5,475"/><path d="M113.7,477 L122,476.4"/>
<path d="M110.8,480 C110.5,485 110,489 109.4,491.7 C108,493.5 106.5,494.2 105,494.6"/>
</g>
<g fill="#000"><path d="M90.5,482 Q96,477.5 101.5,482 Q96,485.5 90.5,482 Z"/><path d="M114.5,485 Q120,480.5 125,485 Q120,488.5 114.5,485 Z"/><path d="M99.5,500 Q104.5,498 109.5,500.5 Q104.5,503.5 99.5,500 Z"/></g>
<g fill="none" stroke="#000" stroke-width="2.3" stroke-linejoin="round" stroke-linecap="round">
<path d="M76.4,513.3 C72,514.5 68,515.5 64.8,516.6 C60,519 55.5,521 51.5,523.2 C49.5,525 48,526.5 46.5,528.2 C45,532 44,535 43.2,538.2 C42,544 41.3,550 40.7,554.8 C39.8,560 38.5,565 37.4,569.7"/>
<path d="M37.4,569.7 C40,569.3 41.5,569 43.2,568.9 L53.2,568.9 C56,570 58,571.5 59.8,573 C61.5,574 63,574.5 64.8,574.7 C66.5,573 67.5,571 68.1,569.7 L69.8,558.1"/>
<path d="M37.4,571.4 L36.6,596.3"/>
<path d="M103,521.6 C98,527 94,532 89.7,538.2 C85,543 80.5,546.5 76.4,549.8 C73.5,553 71.5,555.5 69.8,558.1"/>
<path d="M146,521.6 C144,525 142.5,529 141.1,533.2 C137,538 134,542 131.2,546.5 C130.5,553 130,560 129.5,566.4 L129.5,574.7 C128,577 126,579.5 124.5,581.3 C119,583 114,584 109.6,584.6 L104.6,586.3"/>
<path d="M124.5,589.6 C125.2,594 125.7,598 126.2,602.9 C127.5,610 128.5,617 129.5,624.5 C131,633 132,641 132.8,649.4"/>
<path d="M54.8,606.2 L54.8,619.5"/>
</g>
<g fill="none" stroke="#000" stroke-width="1.3" stroke-linecap="round">
<path d="M103,529.9 C99,537 96,543 93,549.8 C90,559 87,568 84.7,578"/>
<path d="M116.2,523.2 C112,540 108,556 103,573"/>
<path d="M119.5,533.2 C115,546 111,559 107.9,571.4"/>
<path d="M106.3,583 C96,600 86,615 76.4,629.5"/>
<path d="M86.3,586.3 C80,600 74,613 68.1,626.1"/>
<path d="M116.2,591.3 L89.7,632.8"/>
<path d="M113,518 C110,535 107,550 104,566"/>
<path d="M116,520 C113,537 111,552 108.5,562"/>
<path d="M108,530 C104,545 100,556 97,566"/>
<path d="M100,586 C92,600 84,612 78,624"/>
<path d="M95,592 C89,604 84,614 80,628"/>
<path d="M110,592 C104,606 98,618 92,634"/>
<path d="M114,596 L108,638"/>
<path d="M117,598 L117,641"/>
<path d="M125,600 L127,645"/>
<path d="M118,592 L103,636.1"/>
<path d="M120,592 L112.9,639.4"/>
<path d="M122,592 L122.9,642.7"/>
<path d="M112,588 L80,634"/>
<path d="M99,590 L74,630"/>
<path d="M92,583 C94,590 95,596 94,605"/>
</g>
<path fill="#000" d="M100,515 L108,511 L114,509 L121,510.5 L119,520 L116,528 L108,538 L104,541 L102,530 Z"/>
<path fill="none" stroke="#fff" stroke-width="0.9" d="M112,516 L104,536 M116,517 L110,533"/>
<path fill="#000" d="M106,586 L114,584 L125,582 L124.5,592 L123,606 L119,600 L113,597 L107,592 Z"/>
<g fill="none" stroke="#000" stroke-width="1.2">
<path d="M66.0,582.0 L54.0,618.0 M68.2,582.8 L56.2,617.0 M70.4,583.6 L58.4,616.0 M72.6,584.4 L60.6,615.0 M74.8,585.2 L62.8,614.0 M77.0,586.0 L65.0,613.0 M79.2,586.8 L67.2,612.0 M81.4,587.6 L69.4,611.0 M83.6,588.4 L71.6,610.0 M85.8,589.2 L73.8,609.0"/>
</g>
<path fill="none" stroke="#000" stroke-width="1.4" stroke-dasharray="1,2.5" d="M53,573 L54,590 L56,606"/>
<path fill="none" stroke="#000" stroke-width="1.3" stroke-linecap="round" d="M116.1,418.5h0.5 M90.3,421.1h0.9 M121.4,444.6h0.8 M91.8,415.9h0.9 M95.5,428.2h0.8 M106.6,426.6h0.5 M124.5,421.2h0.6 M119.0,422.4h0.6 M131.1,433.5h0.6 M118.3,425.6h1.0 M127.3,415.0h1.0 M91.8,420.8h0.9 M93.8,424.0h0.4 M123.8,436.4h0.8 M135.8,416.1h0.9 M119.5,428.1h0.7 M112.5,431.9h0.5 M125.7,431.1h1.0 M132.7,414.8h0.7 M111.8,409.6h0.5 M88.4,436.6h0.5 M99.4,419.6h1.0 M89.7,422.2h0.8 M136.2,438.9h1.0 M101.1,420.7h0.6 M98.5,412.5h0.7 M119.2,413.8h0.4 M109.3,418.6h0.8 M114.9,429.8h0.8 M130.2,441.4h0.9 M107.8,420.0h0.5 M94.4,417.3h0.5 M90.9,418.4h0.4 M135.7,429.6h0.5 M99.6,417.6h0.6 M92.1,440.2h1.0 M112.0,423.8h0.5 M90.9,417.4h0.6 M133.1,409.3h0.4 M140.2,425.8h0.5 M135.1,433.3h0.6 M129.8,426.0h0.9 M104.1,412.0h0.9 M131.8,438.8h0.9 M98.2,425.3h0.6 M101.2,413.7h0.9 M140.5,422.1h1.0 M106.1,411.9h0.6 M121.2,442.5h0.9 M112.8,431.4h0.9 M89.9,431.7h1.0 M130.4,435.8h0.7 M95.4,437.5h0.6 M108.0,420.1h1.0 M127.0,409.7h0.5 M93.8,442.7h0.9 M93.5,439.2h1.0 M123.1,417.8h0.8 M115.5,444.0h0.7 M135.6,439.2h0.6 M99.6,415.2h0.6 M119.0,413.7h0.7 M92.6,443.0h0.6 M111.6,428.3h1.0 M109.4,443.3h0.7 M115.8,425.6h0.4 M110.5,410.2h0.4 M131.4,409.8h0.7 M127.1,427.0h0.6 M115.1,427.0h0.9"/>
<path fill="none" stroke="#000" stroke-width="1.4" stroke-linecap="round" d="M93.5,438.6h0.7 M102.4,442.7h0.8 M117.2,442.4h1.1 M111.0,439.6h0.8 M114.6,441.2h0.8 M115.7,437.1h1.2 M124.4,444.7h1.2 M101.5,438.6h1.2 M131.7,430.6h0.6 M122.8,442.9h1.1 M96.0,441.6h1.0 M95.4,444.8h1.2 M108.7,437.3h1.2 M131.3,431.1h0.8 M114.8,434.4h0.6 M104.6,441.7h0.5 M116.8,436.4h0.5 M105.2,439.9h0.8 M93.4,433.0h0.5 M128.5,433.1h0.6 M110.0,445.3h1.1 M135.8,438.8h1.0 M123.8,436.1h0.5 M129.7,429.6h1.1 M111.6,434.4h0.9 M136.2,433.1h0.6 M115.4,432.5h0.6 M98.5,433.9h0.7 M127.5,433.5h0.8 M97.3,434.6h0.5 M126.1,438.5h0.6 M112.7,445.8h0.6 M130.6,436.2h0.8 M131.4,435.5h0.8 M123.8,446.7h0.7 M131.3,441.4h0.9 M109.0,434.6h0.5 M126.5,432.9h0.6 M133.3,440.7h0.7 M100.6,433.6h0.8 M96.2,436.5h0.7 M116.4,432.6h1.2 M104.1,434.8h0.5 M107.8,437.0h0.8 M98.5,437.6h0.5 M89.2,433.8h0.6 M118.5,438.1h1.0 M122.2,441.6h1.1 M108.3,434.2h1.2 M95.8,441.8h0.9 M134.4,439.9h1.0 M130.2,430.6h0.9 M114.2,443.9h1.1 M131.0,439.1h1.1 M123.5,441.2h0.6 M131.5,438.6h0.9 M120.6,440.9h0.8 M126.9,437.6h0.9 M126.3,432.8h0.5 M101.8,441.9h0.6 M126.5,446.5h0.8 M107.9,437.1h1.0 M127.9,439.7h0.9 M101.2,442.1h0.7 M91.2,433.1h1.0 M124.0,440.8h0.7 M114.9,436.8h0.8 M94.2,445.0h0.6 M111.4,433.1h0.6 M137.2,432.0h0.9 M95.4,438.0h1.2 M94.9,443.6h0.8 M134.1,441.4h0.6 M134.7,437.2h0.5 M111.4,433.7h0.6 M105.9,434.0h1.1 M131.6,430.3h1.1 M125.1,445.1h0.7 M107.4,435.5h1.2 M118.6,434.9h0.8 M93.3,443.9h0.7 M136.7,432.7h0.7 M114.6,431.6h0.7 M130.2,440.0h1.1 M126.1,436.6h1.0 M121.5,433.4h0.5 M136.2,430.4h0.8 M105.9,433.7h1.0 M122.1,433.7h0.9 M108.5,431.2h0.6 M98.8,445.2h0.8 M99.4,445.2h1.2 M111.4,430.7h0.6 M92.7,434.5h0.5 M100.4,432.9h0.9 M134.1,442.2h0.8 M109.5,438.0h0.8 M94.5,437.6h0.9 M132.9,432.1h0.7 M100.9,435.6h0.8 M134.6,437.0h0.9 M96.0,437.9h1.0 M121.7,442.5h0.8 M128.7,432.4h1.1 M121.6,433.8h0.6 M101.1,440.1h1.0 M115.3,439.1h0.8 M99.6,439.4h0.5 M103.7,436.8h1.2 M121.5,444.8h0.8"/>
<path fill="none" stroke="#000" stroke-width="1.3" stroke-linecap="round" d="M121.6,413.1h1.2 M134.7,415.8h0.5 M129.0,432.4h0.8 M122.2,432.0h1.1 M124.5,420.9h1.0 M120.5,437.9h1.0 M129.1,411.2h1.2 M123.7,438.9h0.6 M121.2,436.2h0.7 M141.7,424.3h0.6 M121.3,420.8h1.0 M141.6,408.6h0.8 M121.0,445.8h0.6 M126.0,442.4h1.1 M141.1,416.8h0.6 M125.6,418.8h0.7 M122.8,417.8h1.2 M118.5,445.4h0.6 M125.0,439.0h1.1 M128.3,418.8h1.1 M120.4,418.4h1.1 M137.7,436.5h0.5 M140.8,413.6h1.0 M140.2,417.3h0.7 M122.3,434.2h0.7 M128.3,445.1h1.2 M125.8,413.3h0.8 M128.8,443.8h0.6 M137.5,435.2h1.1 M136.6,429.3h0.7 M123.9,418.3h1.0 M136.1,413.1h0.5 M124.1,446.1h1.1 M142.7,413.9h0.5 M134.9,422.1h0.6 M126.7,429.9h1.0 M135.9,440.1h1.0 M118.4,439.8h0.7 M130.9,418.8h1.0 M120.6,413.1h0.7 M119.3,441.8h0.9 M124.1,419.8h1.2 M129.2,412.4h1.1 M140.6,403.8h0.7 M141.0,418.8h1.1 M127.6,413.7h1.0 M141.5,406.8h0.9 M132.4,411.8h0.7 M122.1,429.0h0.9 M124.2,432.5h0.6 M123.7,411.2h1.1 M130.4,430.8h0.5 M119.6,433.3h0.8 M122.9,415.8h1.2 M123.7,427.5h0.7 M126.7,440.9h1.2 M125.2,410.9h1.0 M140.2,421.1h1.1 M126.4,441.7h0.8 M130.4,430.8h1.1 M117.5,430.0h0.7 M129.1,408.6h0.7 M129.6,443.6h0.6 M128.7,438.2h1.2 M140.9,419.5h1.1 M132.4,439.1h0.6 M137.0,412.0h0.8 M120.1,411.8h0.8 M129.5,419.3h0.6 M121.9,434.6h1.1 M138.5,407.3h0.9 M130.4,430.2h0.7 M126.8,428.2h0.8 M133.4,422.1h0.8 M128.7,412.6h1.0 M136.8,422.6h0.6 M118.6,421.4h0.5 M127.4,425.0h0.5 M132.8,405.7h1.0 M136.8,425.0h0.5 M129.1,419.0h1.2 M118.8,440.6h1.2 M135.5,438.7h0.6 M142.5,424.1h1.2 M140.6,409.4h1.0 M141.1,404.9h0.7 M136.2,409.1h1.1 M122.7,438.7h0.6 M129.1,443.4h0.6 M122.4,424.8h0.7 M119.5,444.1h1.0 M140.1,409.6h1.0 M118.2,425.9h0.9 M125.1,441.3h0.9 M131.2,441.7h0.6 M126.0,437.9h0.7 M125.1,436.4h0.8 M119.9,435.5h0.5 M138.0,413.4h0.9 M133.6,416.1h0.5 M132.2,421.5h0.8 M140.1,407.9h0.6 M121.3,428.3h0.9 M120.7,430.1h0.8 M118.8,444.1h0.7 M132.9,441.2h1.0 M126.3,413.9h0.5 M133.1,427.3h0.7 M133.1,422.0h1.2 M135.5,413.2h1.1 M126.4,412.7h0.5 M130.4,444.3h0.6 M120.6,429.4h0.8 M133.0,438.6h0.6 M123.7,415.5h0.5 M128.0,435.4h0.8 M124.4,435.7h1.0 M138.7,434.0h0.7 M130.5,421.6h1.0 M129.7,413.9h0.9"/>
<defs>
<pattern id="dk" width="4.2" height="4.2" patternUnits="userSpaceOnUse" patternTransform="rotate(45)">
<rect width="4.2" height="4.2" fill="#000"/><rect x="1" y="1" width="1.6" height="1.6" fill="#fff"/></pattern>
<clipPath id="domclip"><path d="M470.0,419.6 C478.9,420.0 488.7,418.6 498.7,420.8 C508.7,423.0 520.6,428.1 529.8,432.7 C539.0,437.3 546.6,442.5 553.8,448.3 C561.0,454.1 568.1,461.8 572.9,467.4 C577.7,473.0 579.7,475.4 582.5,481.8 C585.3,488.2 587.8,497.7 589.6,505.7 C591.4,513.7 592.6,521.6 593.2,529.6 C593.8,537.6 593.8,544.8 593.2,553.6 C592.6,562.4 591.4,574.3 589.6,582.3 C587.8,590.3 585.7,595.0 582.5,601.4 C579.3,607.8 575.3,614.6 570.5,620.6 C565.7,626.6 559.8,632.1 553.8,637.3 C547.8,642.5 541.4,647.7 534.6,651.7 C527.8,655.7 520.7,658.5 513.1,661.3 C505.5,664.1 496.3,666.9 489.1,668.4 C481.9,669.9 477.7,670.4 470.0,670.0 C462.3,669.6 451.2,668.2 442.7,666.0 C434.2,663.8 426.8,660.5 418.8,656.5 C410.8,652.5 402.8,648.1 394.8,642.1 C386.8,636.1 377.7,628.2 370.9,620.6 C364.1,613.0 358.7,606.2 354.1,596.6 C349.5,587.0 345.4,574.3 343.4,563.1 C341.4,551.9 341.2,540.4 342.2,529.6 C343.2,518.8 345.8,508.5 349.4,498.5 C353.0,488.5 357.3,479.0 363.7,469.8 C370.1,460.6 379.2,450.3 387.6,443.5 C396.0,436.7 404.4,433.3 414.0,429.1 C423.6,424.9 435.7,420.0 445.0,418.4 C454.3,416.8 461.1,419.2 470.0,419.6 Z"/></clipPath>
</defs>
<g clip-path="url(#domclip)">
<path fill="url(#dk)" d="M384.5,552 L441,554.6 L490.2,556 L550.5,552 L542.1,576.7 L532,600 L519,603 L461,603 L440,596 L420,591 L397,590 L391.7,568.9 Z"/>
<path fill="#000" d="M458.1,631.5h2.4v2.4h-2.4z M459.9,627.6h2.0v2.0h-2.0z M421.9,627.9h2.0v2.0h-2.0z M438.0,595.9h2.3v2.3h-2.3z M485.3,635.8h1.5v1.5h-1.5z M405.0,603.5h1.6v1.6h-1.6z M456.5,653.0h1.9v1.9h-1.9z M483.4,627.0h2.1v2.1h-2.1z M458.7,610.1h2.5v2.5h-2.5z M492.6,613.0h1.6v1.6h-1.6z M500.4,619.4h2.3v2.3h-2.3z M449.2,661.8h2.3v2.3h-2.3z M519.9,624.7h2.4v2.4h-2.4z M482.0,648.2h1.6v1.6h-1.6z M408.8,614.3h2.4v2.4h-2.4z M430.3,596.7h1.4v1.4h-1.4z M504.6,602.5h2.0v2.0h-2.0z M457.4,603.5h2.2v2.2h-2.2z M414.7,637.9h1.5v1.5h-1.5z M453.8,605.2h1.6v1.6h-1.6z M438.1,656.2h1.6v1.6h-1.6z M450.2,653.9h2.1v2.1h-2.1z M410.5,664.2h1.6v1.6h-1.6z M431.9,647.7h1.7v1.7h-1.7z M409.2,633.3h1.6v1.6h-1.6z M478.2,617.2h1.8v1.8h-1.8z M474.6,654.9h1.5v1.5h-1.5z M417.8,658.0h2.3v2.3h-2.3z M430.7,603.4h2.2v2.2h-2.2z M524.0,603.9h2.4v2.4h-2.4z M516.1,634.9h1.8v1.8h-1.8z M411.0,591.9h2.4v2.4h-2.4z M429.2,642.5h1.6v1.6h-1.6z M508.2,634.3h1.7v1.7h-1.7z M420.7,643.7h1.4v1.4h-1.4z M427.8,631.5h2.3v2.3h-2.3z M479.9,610.3h2.4v2.4h-2.4z M433.3,622.9h1.4v1.4h-1.4z M420.8,617.0h2.0v2.0h-2.0z M414.8,616.5h2.3v2.3h-2.3z M490.3,633.4h1.5v1.5h-1.5z M401.7,590.4h2.4v2.4h-2.4z M491.6,662.2h1.4v1.4h-1.4z M482.9,625.6h2.2v2.2h-2.2z M440.1,665.0h1.4v1.4h-1.4z M470.7,645.0h2.4v2.4h-2.4z M496.5,642.5h2.2v2.2h-2.2z M520.5,615.7h2.1v2.1h-2.1z M518.6,655.2h1.8v1.8h-1.8z M503.7,654.6h2.0v2.0h-2.0z M481.4,618.1h2.0v2.0h-2.0z M483.3,664.5h2.3v2.3h-2.3z M495.3,618.5h2.2v2.2h-2.2z M475.4,622.5h2.3v2.3h-2.3z M408.3,646.0h1.4v1.4h-1.4z M478.2,625.6h1.6v1.6h-1.6z M491.3,626.8h2.0v2.0h-2.0z M521.3,608.4h1.3v1.3h-1.3z M437.6,640.5h1.6v1.6h-1.6z M419.9,657.8h2.1v2.1h-2.1z M456.7,656.8h1.7v1.7h-1.7z M486.9,604.1h1.8v1.8h-1.8z M505.8,658.5h2.3v2.3h-2.3z M448.9,633.3h1.7v1.7h-1.7z M415.4,626.7h2.3v2.3h-2.3z M511.6,643.1h2.4v2.4h-2.4z M434.4,601.9h1.8v1.8h-1.8z M434.1,605.3h1.8v1.8h-1.8z M481.5,626.5h1.7v1.7h-1.7z M510.3,663.6h1.8v1.8h-1.8z M407.1,591.4h2.3v2.3h-2.3z M402.6,642.9h2.0v2.0h-2.0z M438.7,649.2h1.4v1.4h-1.4z M415.3,623.6h1.4v1.4h-1.4z M509.0,607.0h1.5v1.5h-1.5z M403.3,636.8h1.8v1.8h-1.8z M482.0,638.8h2.3v2.3h-2.3z M423.9,625.1h1.5v1.5h-1.5z M493.4,602.6h1.6v1.6h-1.6z M443.7,642.0h1.9v1.9h-1.9z M480.0,646.5h1.8v1.8h-1.8z M503.9,657.9h1.4v1.4h-1.4z M414.5,623.5h2.0v2.0h-2.0z M519.8,617.6h2.0v2.0h-2.0z M515.7,649.6h2.4v2.4h-2.4z M459.6,638.5h1.6v1.6h-1.6z M494.5,651.2h2.1v2.1h-2.1z M493.9,605.2h2.4v2.4h-2.4z M469.5,649.1h1.7v1.7h-1.7z M456.5,630.8h2.2v2.2h-2.2z M505.0,602.1h1.7v1.7h-1.7z M417.1,628.3h2.2v2.2h-2.2z M510.4,641.4h2.4v2.4h-2.4z M463.5,661.1h1.4v1.4h-1.4z M426.9,629.0h1.7v1.7h-1.7z M495.4,637.6h1.9v1.9h-1.9z M510.9,631.6h1.7v1.7h-1.7z M448.5,653.2h2.4v2.4h-2.4z M425.1,653.7h2.4v2.4h-2.4z M467.8,632.5h1.6v1.6h-1.6z M469.3,627.2h2.0v2.0h-2.0z M466.7,619.4h2.2v2.2h-2.2z M473.0,626.3h2.1v2.1h-2.1z M405.9,629.9h1.8v1.8h-1.8z M433.3,625.0h1.5v1.5h-1.5z M455.5,651.0h2.4v2.4h-2.4z M461.3,613.1h1.5v1.5h-1.5z M480.4,659.3h1.5v1.5h-1.5z M423.2,606.3h2.1v2.1h-2.1z M440.5,616.0h2.0v2.0h-2.0z M411.2,644.5h1.5v1.5h-1.5z M465.9,608.0h1.6v1.6h-1.6z M468.6,622.2h1.8v1.8h-1.8z M452.8,629.2h1.5v1.5h-1.5z M424.6,637.0h2.1v2.1h-2.1z M468.5,653.7h2.0v2.0h-2.0z M512.7,606.7h2.2v2.2h-2.2z M506.4,657.6h1.7v1.7h-1.7z M439.5,659.1h1.6v1.6h-1.6z M415.1,607.2h2.2v2.2h-2.2z M432.0,596.4h2.3v2.3h-2.3z M453.9,649.0h1.5v1.5h-1.5z M451.4,641.1h1.4v1.4h-1.4z M424.1,640.9h2.4v2.4h-2.4z M465.3,646.6h1.9v1.9h-1.9z M489.6,603.4h1.4v1.4h-1.4z M411.3,591.8h2.0v2.0h-2.0z M466.5,632.2h1.5v1.5h-1.5z M421.9,604.5h2.3v2.3h-2.3z M409.9,593.7h2.4v2.4h-2.4z M459.4,647.1h1.7v1.7h-1.7z M460.0,628.2h1.8v1.8h-1.8z M491.6,653.2h1.5v1.5h-1.5z M458.3,645.2h1.8v1.8h-1.8z M423.3,601.5h1.9v1.9h-1.9z M505.2,642.6h2.3v2.3h-2.3z M482.0,619.7h2.0v2.0h-2.0z M465.1,663.7h2.2v2.2h-2.2z M431.9,658.3h2.2v2.2h-2.2z M502.0,650.9h1.8v1.8h-1.8z M518.0,655.9h2.1v2.1h-2.1z M500.6,647.2h1.8v1.8h-1.8z M443.1,624.6h1.3v1.3h-1.3z M445.0,637.5h2.0v2.0h-2.0z M428.3,660.8h2.1v2.1h-2.1z M442.6,639.1h2.0v2.0h-2.0z M469.0,618.6h2.5v2.5h-2.5z M483.7,642.3h2.2v2.2h-2.2z M480.1,645.1h1.6v1.6h-1.6z M423.4,617.6h1.4v1.4h-1.4z M430.9,657.8h2.0v2.0h-2.0z M465.6,662.5h2.0v2.0h-2.0z M477.7,646.7h1.4v1.4h-1.4z M463.9,635.4h1.4v1.4h-1.4z M468.1,634.4h1.7v1.7h-1.7z M435.6,638.8h2.0v2.0h-2.0z M435.3,643.5h1.7v1.7h-1.7z M402.8,600.9h2.2v2.2h-2.2z M449.6,657.2h2.2v2.2h-2.2z M403.8,664.1h2.4v2.4h-2.4z M406.9,657.8h1.8v1.8h-1.8z M461.5,663.0h1.6v1.6h-1.6z M467.7,660.2h2.2v2.2h-2.2z M460.2,663.4h2.3v2.3h-2.3z M481.3,623.6h1.6v1.6h-1.6z M404.0,629.1h1.5v1.5h-1.5z M456.8,639.8h1.8v1.8h-1.8z M432.4,633.2h1.8v1.8h-1.8z M502.0,629.3h2.5v2.5h-2.5z M429.2,597.7h2.3v2.3h-2.3z M502.9,636.5h1.7v1.7h-1.7z M433.7,641.1h2.0v2.0h-2.0z M476.9,637.1h2.2v2.2h-2.2z M422.6,607.9h2.4v2.4h-2.4z M402.3,593.6h1.6v1.6h-1.6z M454.4,636.4h1.4v1.4h-1.4z M408.7,640.4h2.0v2.0h-2.0z M482.2,617.4h1.9v1.9h-1.9z M425.4,615.1h2.2v2.2h-2.2z M413.2,650.5h2.0v2.0h-2.0z M500.8,605.2h1.8v1.8h-1.8z M431.8,650.6h1.8v1.8h-1.8z M485.2,664.2h1.7v1.7h-1.7z M471.1,645.7h2.4v2.4h-2.4z M454.7,617.1h1.4v1.4h-1.4z M408.2,631.9h1.9v1.9h-1.9z M489.5,611.7h2.2v2.2h-2.2z M407.3,605.2h2.1v2.1h-2.1z M408.0,612.1h2.2v2.2h-2.2z M490.7,610.5h1.5v1.5h-1.5z M445.3,644.2h1.7v1.7h-1.7z M412.8,642.9h2.0v2.0h-2.0z M520.3,622.3h2.2v2.2h-2.2z M438.1,613.1h1.8v1.8h-1.8z M430.5,616.5h1.7v1.7h-1.7z M446.0,619.1h1.8v1.8h-1.8z M423.3,631.8h2.2v2.2h-2.2z M470.0,652.6h2.0v2.0h-2.0z M420.8,646.7h2.3v2.3h-2.3z M466.6,630.4h2.0v2.0h-2.0z M470.8,648.9h1.4v1.4h-1.4z M408.0,645.0h2.4v2.4h-2.4z M408.4,637.2h1.5v1.5h-1.5z M497.7,638.3h1.6v1.6h-1.6z M426.8,647.2h1.9v1.9h-1.9z M500.2,619.0h1.7v1.7h-1.7z M463.6,629.8h2.2v2.2h-2.2z M492.6,658.5h1.8v1.8h-1.8z M508.5,639.7h2.3v2.3h-2.3z M505.8,652.4h2.3v2.3h-2.3z M467.7,643.0h2.2v2.2h-2.2z M453.9,621.0h1.5v1.5h-1.5z M497.1,664.3h1.8v1.8h-1.8z M419.6,604.5h1.8v1.8h-1.8z M436.4,662.7h1.4v1.4h-1.4z M438.6,597.7h2.1v2.1h-2.1z M501.8,602.6h1.4v1.4h-1.4z M458.9,633.4h2.4v2.4h-2.4z M401.9,597.3h1.5v1.5h-1.5z M426.3,606.9h2.1v2.1h-2.1z M477.3,606.0h1.5v1.5h-1.5z M434.9,602.1h2.2v2.2h-2.2z M439.1,630.7h2.3v2.3h-2.3z M461.7,608.8h2.3v2.3h-2.3z M520.4,615.0h2.0v2.0h-2.0z M426.8,592.8h2.4v2.4h-2.4z M505.2,618.3h1.9v1.9h-1.9z M466.6,609.9h2.5v2.5h-2.5z M485.8,607.1h1.3v1.3h-1.3z M460.8,617.2h2.2v2.2h-2.2z M493.3,635.1h1.5v1.5h-1.5z M418.2,613.5h1.6v1.6h-1.6z M514.3,628.2h2.1v2.1h-2.1z M507.9,653.3h2.3v2.3h-2.3z M408.1,609.5h2.1v2.1h-2.1z M410.1,625.5h1.9v1.9h-1.9z M512.7,612.1h2.2v2.2h-2.2z M453.3,658.7h1.4v1.4h-1.4z M508.6,604.8h1.9v1.9h-1.9z M509.3,612.7h1.7v1.7h-1.7z M407.3,612.2h1.9v1.9h-1.9z M493.5,616.3h2.1v2.1h-2.1z M411.3,619.0h1.9v1.9h-1.9z M447.9,643.0h1.6v1.6h-1.6z M473.2,623.8h1.3v1.3h-1.3z M424.9,635.8h1.7v1.7h-1.7z M447.8,630.0h1.7v1.7h-1.7z M442.5,618.8h2.1v2.1h-2.1z M431.6,604.2h2.2v2.2h-2.2z M441.5,660.8h2.0v2.0h-2.0z M494.7,614.2h2.3v2.3h-2.3z M409.5,599.7h1.4v1.4h-1.4z M488.5,642.8h1.5v1.5h-1.5z M451.3,652.6h2.0v2.0h-2.0z M409.2,606.2h1.5v1.5h-1.5z M413.8,619.9h1.4v1.4h-1.4z M521.3,621.5h1.9v1.9h-1.9z M484.4,647.3h2.3v2.3h-2.3z M449.1,614.2h1.8v1.8h-1.8z M491.5,663.6h2.2v2.2h-2.2z M486.1,635.3h1.4v1.4h-1.4z M441.7,615.0h2.1v2.1h-2.1z M411.3,617.7h1.9v1.9h-1.9z M503.5,651.7h2.0v2.0h-2.0z M418.4,647.3h2.4v2.4h-2.4z M471.0,615.8h1.9v1.9h-1.9z M416.1,643.2h2.5v2.5h-2.5z M466.7,643.4h2.3v2.3h-2.3z M423.6,660.8h2.0v2.0h-2.0z M423.7,595.3h1.6v1.6h-1.6z M474.8,642.0h1.7v1.7h-1.7z M522.4,616.5h1.9v1.9h-1.9z M413.7,663.0h1.5v1.5h-1.5z M519.0,630.3h2.0v2.0h-2.0z M472.6,609.1h2.4v2.4h-2.4z M508.3,610.9h2.4v2.4h-2.4z M429.5,632.6h2.3v2.3h-2.3z M422.1,630.6h1.4v1.4h-1.4z M401.3,602.7h2.5v2.5h-2.5z M438.5,640.0h2.2v2.2h-2.2z M448.5,634.0h2.2v2.2h-2.2z M399.2,604.2h1.9v1.9h-1.9z M416.3,618.4h2.0v2.0h-2.0z M420.4,628.5h1.6v1.6h-1.6z M473.7,614.2h2.1v2.1h-2.1z M416.5,661.9h2.0v2.0h-2.0z M460.4,620.3h2.0v2.0h-2.0z M490.1,646.6h2.2v2.2h-2.2z M462.6,664.6h2.3v2.3h-2.3z M512.4,620.1h1.8v1.8h-1.8z M473.4,657.8h1.9v1.9h-1.9z M467.9,621.8h2.4v2.4h-2.4z M495.0,657.4h2.2v2.2h-2.2z M477.7,646.1h1.7v1.7h-1.7z M413.8,623.0h1.9v1.9h-1.9z M490.8,629.0h1.6v1.6h-1.6z M438.4,619.1h1.6v1.6h-1.6z M406.2,658.3h2.4v2.4h-2.4z M486.9,654.9h1.8v1.8h-1.8z M505.7,605.9h2.2v2.2h-2.2z M473.5,657.7h1.4v1.4h-1.4z M469.6,661.3h1.3v1.3h-1.3z M429.9,611.7h1.7v1.7h-1.7z M405.5,657.0h2.3v2.3h-2.3z M450.6,616.1h2.0v2.0h-2.0z M403.2,591.4h2.4v2.4h-2.4z M438.6,626.9h2.4v2.4h-2.4z M424.9,611.4h2.4v2.4h-2.4z M518.1,603.9h2.3v2.3h-2.3z M444.8,624.9h1.5v1.5h-1.5z M515.8,664.7h1.6v1.6h-1.6z M482.4,603.6h2.3v2.3h-2.3z M403.8,597.1h2.2v2.2h-2.2z M439.3,657.4h2.3v2.3h-2.3z M491.0,660.3h1.8v1.8h-1.8z M407.7,606.0h1.7v1.7h-1.7z M492.9,603.9h1.5v1.5h-1.5z M428.8,639.5h2.2v2.2h-2.2z M447.3,639.3h2.3v2.3h-2.3z M476.6,606.4h1.7v1.7h-1.7z M434.4,637.6h1.4v1.4h-1.4z M468.3,629.3h1.4v1.4h-1.4z M478.0,610.6h1.6v1.6h-1.6z M435.5,646.4h1.6v1.6h-1.6z M434.7,630.7h1.5v1.5h-1.5z M518.1,664.1h1.4v1.4h-1.4z M459.3,646.0h1.8v1.8h-1.8z M421.3,631.3h2.1v2.1h-2.1z M445.5,639.0h2.2v2.2h-2.2z M466.8,627.4h2.3v2.3h-2.3z M489.4,628.6h2.4v2.4h-2.4z M420.5,648.3h1.5v1.5h-1.5z M479.1,606.9h1.8v1.8h-1.8z M501.4,648.8h2.2v2.2h-2.2z M428.9,626.2h1.6v1.6h-1.6z M475.3,626.9h1.4v1.4h-1.4z M477.6,643.3h2.0v2.0h-2.0z M514.8,602.7h1.5v1.5h-1.5z M455.7,622.6h1.6v1.6h-1.6z M519.5,632.2h1.9v1.9h-1.9z M503.9,607.1h1.5v1.5h-1.5z M439.4,636.2h1.9v1.9h-1.9z M432.7,633.7h1.4v1.4h-1.4z M507.8,602.0h1.6v1.6h-1.6z M418.6,641.5h2.3v2.3h-2.3z M452.4,616.7h1.6v1.6h-1.6z M463.1,646.9h2.5v2.5h-2.5z M416.5,623.6h2.2v2.2h-2.2z M402.3,607.3h2.3v2.3h-2.3z M416.1,618.9h1.7v1.7h-1.7z M500.0,644.8h1.6v1.6h-1.6z M431.2,630.9h1.6v1.6h-1.6z M459.3,659.9h1.7v1.7h-1.7z M442.5,663.6h2.0v2.0h-2.0z M402.4,619.6h2.1v2.1h-2.1z M404.9,615.1h2.1v2.1h-2.1z M513.7,633.9h2.3v2.3h-2.3z M459.5,618.9h2.3v2.3h-2.3z M448.5,648.4h1.6v1.6h-1.6z M443.9,603.0h2.0v2.0h-2.0z M419.1,604.5h1.6v1.6h-1.6z M460.1,612.4h1.8v1.8h-1.8z M513.5,604.5h1.8v1.8h-1.8z M406.8,641.5h1.7v1.7h-1.7z M421.6,608.9h1.8v1.8h-1.8z M433.3,616.4h1.5v1.5h-1.5z M523.4,616.3h2.2v2.2h-2.2z M494.7,657.9h1.4v1.4h-1.4z M440.5,618.2h1.4v1.4h-1.4z M516.1,613.7h2.2v2.2h-2.2z M450.2,607.1h1.4v1.4h-1.4z M417.4,634.2h1.4v1.4h-1.4z M439.2,621.2h2.0v2.0h-2.0z M415.4,642.7h1.6v1.6h-1.6z M494.9,639.6h1.5v1.5h-1.5z M424.6,610.3h2.1v2.1h-2.1z M451.7,618.4h2.3v2.3h-2.3z M427.5,611.2h1.7v1.7h-1.7z M426.1,592.1h1.4v1.4h-1.4z M482.1,632.0h2.3v2.3h-2.3z M487.5,658.8h1.6v1.6h-1.6z M490.0,639.7h2.4v2.4h-2.4z M514.2,606.8h2.1v2.1h-2.1z M409.1,621.5h1.8v1.8h-1.8z M405.1,618.1h1.7v1.7h-1.7z M464.1,610.3h1.5v1.5h-1.5z M451.3,625.1h1.5v1.5h-1.5z M486.8,607.2h1.4v1.4h-1.4z M443.1,621.1h1.5v1.5h-1.5z M475.7,642.3h2.0v2.0h-2.0z M449.8,616.7h1.4v1.4h-1.4z M463.9,633.5h1.9v1.9h-1.9z M440.9,608.3h1.4v1.4h-1.4z M443.9,656.8h2.0v2.0h-2.0z M432.4,639.8h1.5v1.5h-1.5z M460.3,635.8h2.4v2.4h-2.4z M446.0,632.8h2.4v2.4h-2.4z M501.1,636.7h2.0v2.0h-2.0z M452.5,620.6h1.6v1.6h-1.6z M509.0,655.9h1.8v1.8h-1.8z M415.3,627.5h1.7v1.7h-1.7z M445.7,663.3h1.5v1.5h-1.5z M423.0,606.4h2.1v2.1h-2.1z M470.4,618.9h1.6v1.6h-1.6z M463.6,638.4h2.0v2.0h-2.0z M481.3,631.6h2.3v2.3h-2.3z M443.8,656.4h1.7v1.7h-1.7z M493.7,641.8h2.1v2.1h-2.1z M418.5,636.2h1.9v1.9h-1.9z M473.1,617.1h1.7v1.7h-1.7z M498.1,629.6h1.6v1.6h-1.6z M430.7,613.7h1.5v1.5h-1.5z M405.5,594.2h1.4v1.4h-1.4z M458.0,647.7h1.9v1.9h-1.9z M418.9,654.8h2.3v2.3h-2.3z M404.2,608.3h1.9v1.9h-1.9z M504.5,618.8h2.1v2.1h-2.1z M431.0,643.4h1.7v1.7h-1.7z M442.1,646.7h2.3v2.3h-2.3z M508.9,632.1h1.8v1.8h-1.8z M492.4,636.3h2.3v2.3h-2.3z M447.9,639.9h1.6v1.6h-1.6z M476.0,660.5h2.4v2.4h-2.4z M415.1,641.3h1.8v1.8h-1.8z M482.2,619.2h2.4v2.4h-2.4z M402.7,610.7h2.2v2.2h-2.2z M470.2,625.7h1.8v1.8h-1.8z M438.7,649.8h2.3v2.3h-2.3z M435.3,618.8h2.0v2.0h-2.0z M500.3,663.6h1.8v1.8h-1.8z M490.7,630.5h2.2v2.2h-2.2z M416.8,602.3h1.5v1.5h-1.5z M523.0,608.1h1.9v1.9h-1.9z M413.2,613.6h1.4v1.4h-1.4z M481.4,609.8h1.6v1.6h-1.6z M462.1,616.8h1.6v1.6h-1.6z M403.9,593.9h2.3v2.3h-2.3z M421.6,625.7h2.5v2.5h-2.5z M424.3,654.9h1.9v1.9h-1.9z M453.0,650.3h1.8v1.8h-1.8z M404.8,630.8h2.1v2.1h-2.1z M481.1,610.1h2.4v2.4h-2.4z M513.7,664.6h1.8v1.8h-1.8z M509.6,644.1h1.5v1.5h-1.5z M400.6,601.8h1.5v1.5h-1.5z M407.1,616.3h2.2v2.2h-2.2z M438.9,628.1h1.3v1.3h-1.3z M425.4,661.9h1.3v1.3h-1.3z M468.2,650.6h2.2v2.2h-2.2z M496.3,619.3h2.2v2.2h-2.2z M508.7,647.3h2.5v2.5h-2.5z M410.6,661.2h1.8v1.8h-1.8z M492.2,608.0h2.4v2.4h-2.4z M427.7,618.5h1.8v1.8h-1.8z M485.7,650.6h1.7v1.7h-1.7z M483.1,615.9h1.6v1.6h-1.6z M519.2,613.4h1.4v1.4h-1.4z M442.2,645.4h1.6v1.6h-1.6z M497.3,630.5h2.1v2.1h-2.1z M420.9,597.0h1.5v1.5h-1.5z M444.3,621.7h1.3v1.3h-1.3z M464.8,619.7h1.7v1.7h-1.7z M469.5,661.4h1.6v1.6h-1.6z M515.9,613.4h2.2v2.2h-2.2z M411.6,664.1h1.8v1.8h-1.8z M527.0,605.7h1.8v1.8h-1.8z M492.3,602.5h1.6v1.6h-1.6z M488.4,661.0h1.7v1.7h-1.7z M421.8,616.1h2.5v2.5h-2.5z M417.0,637.2h1.8v1.8h-1.8z M483.9,605.1h2.0v2.0h-2.0z M516.8,654.1h2.0v2.0h-2.0z M465.2,632.1h1.5v1.5h-1.5z M510.1,641.4h1.8v1.8h-1.8z M486.8,620.9h1.8v1.8h-1.8z M428.1,634.7h2.0v2.0h-2.0z M481.7,623.0h2.0v2.0h-2.0z M477.3,659.8h1.5v1.5h-1.5z M460.3,664.5h2.2v2.2h-2.2z M439.3,645.0h2.5v2.5h-2.5z M451.3,654.9h1.5v1.5h-1.5z M428.6,652.9h2.1v2.1h-2.1z M504.7,627.9h2.5v2.5h-2.5z M405.8,655.1h2.1v2.1h-2.1z M430.8,650.3h1.8v1.8h-1.8z M469.4,654.8h1.6v1.6h-1.6z M434.7,637.9h1.4v1.4h-1.4z M471.9,648.8h1.9v1.9h-1.9z M429.6,649.8h2.3v2.3h-2.3z M501.1,630.7h2.4v2.4h-2.4z M402.0,615.3h2.3v2.3h-2.3z M421.5,618.5h2.3v2.3h-2.3z M480.3,657.5h1.4v1.4h-1.4z M481.9,655.6h2.2v2.2h-2.2z M423.6,639.8h1.8v1.8h-1.8z M439.6,636.9h1.6v1.6h-1.6z M478.4,641.8h1.5v1.5h-1.5z M414.3,641.7h1.9v1.9h-1.9z M414.4,597.8h2.4v2.4h-2.4z M479.4,616.2h1.6v1.6h-1.6z M496.4,616.4h1.7v1.7h-1.7z M452.1,600.1h2.0v2.0h-2.0z M454.3,651.3h1.8v1.8h-1.8z M458.7,627.5h2.4v2.4h-2.4z M443.8,642.5h1.6v1.6h-1.6z M475.2,610.7h2.3v2.3h-2.3z M435.7,653.9h2.1v2.1h-2.1z M458.4,660.0h1.8v1.8h-1.8z M497.3,634.7h1.8v1.8h-1.8z M405.7,620.9h1.7v1.7h-1.7z M456.5,661.5h1.7v1.7h-1.7z M490.8,640.1h1.6v1.6h-1.6z M517.9,608.1h1.8v1.8h-1.8z M443.1,651.4h2.3v2.3h-2.3z M476.7,630.5h1.4v1.4h-1.4z M446.1,617.5h2.2v2.2h-2.2z M487.3,615.1h2.4v2.4h-2.4z M482.5,624.7h1.7v1.7h-1.7z M459.8,613.0h2.1v2.1h-2.1z M478.7,662.8h2.4v2.4h-2.4z M508.9,638.4h2.1v2.1h-2.1z M459.4,619.5h2.1v2.1h-2.1z M426.4,664.2h1.6v1.6h-1.6z M446.9,599.9h1.8v1.8h-1.8z M419.5,638.3h2.0v2.0h-2.0z M497.2,608.3h2.3v2.3h-2.3z M495.7,648.0h1.5v1.5h-1.5z M513.1,660.8h2.4v2.4h-2.4z M400.3,615.7h1.9v1.9h-1.9z M503.5,611.9h1.9v1.9h-1.9z M413.8,632.2h1.5v1.5h-1.5z M408.9,627.9h1.7v1.7h-1.7z M502.0,607.8h1.8v1.8h-1.8z M404.3,605.5h1.8v1.8h-1.8z M472.3,623.9h2.3v2.3h-2.3z M411.1,653.6h1.5v1.5h-1.5z M451.9,635.5h2.3v2.3h-2.3z M507.5,644.8h2.1v2.1h-2.1z M418.1,629.4h1.4v1.4h-1.4z M411.9,611.9h2.4v2.4h-2.4z M483.8,653.4h1.4v1.4h-1.4z M432.2,597.5h2.4v2.4h-2.4z M441.4,626.2h2.1v2.1h-2.1z M516.7,660.9h2.0v2.0h-2.0z M464.6,657.7h1.8v1.8h-1.8z M437.4,645.2h1.6v1.6h-1.6z M446.7,621.6h1.9v1.9h-1.9z M445.4,621.7h1.8v1.8h-1.8z M403.7,652.5h1.4v1.4h-1.4z M468.3,630.6h1.8v1.8h-1.8z M427.1,596.5h1.8v1.8h-1.8z M439.4,625.8h1.6v1.6h-1.6z M498.2,626.0h1.3v1.3h-1.3z M451.9,662.4h1.3v1.3h-1.3z M477.1,662.0h1.7v1.7h-1.7z M477.7,617.0h1.7v1.7h-1.7z M479.2,633.8h1.7v1.7h-1.7z M464.2,628.2h2.2v2.2h-2.2z M404.2,596.1h1.6v1.6h-1.6z M433.5,649.5h1.8v1.8h-1.8z M513.1,619.6h1.7v1.7h-1.7z M441.3,613.1h2.3v2.3h-2.3z M503.4,637.8h1.4v1.4h-1.4z M481.3,631.0h2.4v2.4h-2.4z M496.5,620.8h2.1v2.1h-2.1z M407.1,648.4h1.8v1.8h-1.8z M498.5,617.7h1.8v1.8h-1.8z M440.2,644.8h1.4v1.4h-1.4z M412.6,652.4h2.1v2.1h-2.1z M413.0,612.6h2.4v2.4h-2.4z M472.6,659.1h1.6v1.6h-1.6z M453.0,629.8h2.3v2.3h-2.3z M413.7,655.4h1.9v1.9h-1.9z M401.2,621.8h1.8v1.8h-1.8z M488.0,659.5h1.9v1.9h-1.9z M490.1,618.5h2.2v2.2h-2.2z M411.2,645.4h1.5v1.5h-1.5z M476.1,604.4h1.7v1.7h-1.7z M419.1,615.6h2.0v2.0h-2.0z M467.2,618.5h2.0v2.0h-2.0z M510.7,616.2h2.0v2.0h-2.0z M461.9,663.5h1.7v1.7h-1.7z M491.2,606.8h1.6v1.6h-1.6z M495.6,632.7h1.6v1.6h-1.6z M405.7,651.7h1.8v1.8h-1.8z M493.7,621.9h2.0v2.0h-2.0z M472.5,663.2h2.4v2.4h-2.4z M458.5,626.0h1.6v1.6h-1.6z M438.4,653.4h1.4v1.4h-1.4z M491.3,632.2h2.0v2.0h-2.0z M442.0,600.5h2.4v2.4h-2.4z M500.2,650.2h1.4v1.4h-1.4z M502.9,605.6h1.6v1.6h-1.6z M469.2,635.3h1.5v1.5h-1.5z M500.3,633.3h2.4v2.4h-2.4z M446.1,661.3h2.1v2.1h-2.1z M436.3,654.2h2.2v2.2h-2.2z M432.7,607.9h1.4v1.4h-1.4z M469.5,608.3h1.7v1.7h-1.7z M431.1,599.0h1.9v1.9h-1.9z M433.8,610.7h1.6v1.6h-1.6z M465.7,655.4h1.5v1.5h-1.5z M513.0,654.0h2.0v2.0h-2.0z M470.4,644.8h1.9v1.9h-1.9z M486.1,658.9h2.2v2.2h-2.2z M523.4,616.6h2.2v2.2h-2.2z M428.5,623.4h1.8v1.8h-1.8z M495.4,660.7h1.9v1.9h-1.9z M473.4,615.5h1.6v1.6h-1.6z M406.7,657.5h1.4v1.4h-1.4z M512.5,648.6h1.9v1.9h-1.9z M407.4,629.1h1.5v1.5h-1.5z M468.1,615.9h1.9v1.9h-1.9z M423.7,642.6h1.8v1.8h-1.8z M462.7,631.4h2.4v2.4h-2.4z M437.5,614.5h2.1v2.1h-2.1z M512.9,660.1h1.4v1.4h-1.4z M463.1,633.9h2.1v2.1h-2.1z M479.7,635.6h2.4v2.4h-2.4z M408.7,628.5h2.4v2.4h-2.4z M401.3,597.5h2.3v2.3h-2.3z M489.9,628.5h2.0v2.0h-2.0z M499.2,650.4h1.3v1.3h-1.3z M406.2,649.4h2.4v2.4h-2.4z M509.5,620.0h1.7v1.7h-1.7z M501.0,608.9h2.0v2.0h-2.0z M468.0,614.5h2.1v2.1h-2.1z M458.4,606.8h2.3v2.3h-2.3z M420.7,600.4h1.6v1.6h-1.6z M461.7,648.6h1.7v1.7h-1.7z M429.2,638.7h1.6v1.6h-1.6z M467.6,608.4h2.3v2.3h-2.3z M421.9,606.6h1.7v1.7h-1.7z M441.5,644.2h2.1v2.1h-2.1z M503.7,630.0h1.4v1.4h-1.4z M500.1,607.6h1.6v1.6h-1.6z M452.9,664.2h1.8v1.8h-1.8z M445.1,658.2h2.5v2.5h-2.5z M449.3,599.3h2.2v2.2h-2.2z M502.6,614.7h2.2v2.2h-2.2z M448.2,610.8h2.0v2.0h-2.0z M497.1,625.2h2.3v2.3h-2.3z M424.8,655.7h2.4v2.4h-2.4z M522.7,615.0h2.4v2.4h-2.4z M416.1,643.3h2.4v2.4h-2.4z M423.0,599.3h2.1v2.1h-2.1z M516.1,644.2h2.4v2.4h-2.4z M458.3,617.3h1.5v1.5h-1.5z M433.9,660.4h1.4v1.4h-1.4z M422.0,615.4h1.4v1.4h-1.4z M438.4,602.9h1.5v1.5h-1.5z M468.1,630.1h2.0v2.0h-2.0z M499.9,629.0h2.4v2.4h-2.4z M408.0,605.9h1.4v1.4h-1.4z M438.8,646.8h2.4v2.4h-2.4z M441.6,632.2h1.7v1.7h-1.7z M504.0,662.9h1.9v1.9h-1.9z M478.4,653.3h1.9v1.9h-1.9z M422.8,660.7h2.4v2.4h-2.4z M419.0,602.2h2.2v2.2h-2.2z M426.7,649.7h1.9v1.9h-1.9z M485.1,624.3h1.5v1.5h-1.5z M402.6,608.8h2.0v2.0h-2.0z M446.9,624.9h2.0v2.0h-2.0z M439.8,616.1h2.3v2.3h-2.3z M475.4,620.7h1.9v1.9h-1.9z M459.1,614.3h2.4v2.4h-2.4z M428.5,660.1h2.3v2.3h-2.3z M465.7,663.8h1.7v1.7h-1.7z M420.1,644.0h1.6v1.6h-1.6z M524.9,610.6h1.4v1.4h-1.4z M489.8,615.4h2.0v2.0h-2.0z M464.1,659.1h1.9v1.9h-1.9z M464.0,609.4h2.0v2.0h-2.0z M482.3,624.1h1.4v1.4h-1.4z M464.2,625.6h2.1v2.1h-2.1z M505.0,606.8h2.3v2.3h-2.3z M504.7,608.4h2.4v2.4h-2.4z M465.0,621.4h2.0v2.0h-2.0z M462.1,611.1h2.3v2.3h-2.3z M464.9,615.0h1.6v1.6h-1.6z M426.0,652.4h2.2v2.2h-2.2z M489.5,649.6h2.1v2.1h-2.1z M506.3,649.9h1.5v1.5h-1.5z M507.0,612.1h1.6v1.6h-1.6z M466.1,615.1h2.2v2.2h-2.2z M479.4,658.2h2.4v2.4h-2.4z M438.9,603.1h2.1v2.1h-2.1z M499.3,663.9h2.0v2.0h-2.0z M413.9,644.2h1.4v1.4h-1.4z M514.1,647.4h2.2v2.2h-2.2z M514.9,632.3h2.4v2.4h-2.4z M483.3,626.4h1.8v1.8h-1.8z M418.7,649.5h1.6v1.6h-1.6z M485.2,647.9h2.1v2.1h-2.1z M466.6,613.0h1.6v1.6h-1.6z M422.3,638.2h2.1v2.1h-2.1z M524.2,614.1h2.4v2.4h-2.4z M520.1,611.1h2.4v2.4h-2.4z M480.6,662.2h2.2v2.2h-2.2z M442.0,610.2h1.9v1.9h-1.9z M513.4,629.7h1.9v1.9h-1.9z M497.5,608.0h1.6v1.6h-1.6z M475.4,607.3h1.7v1.7h-1.7z M406.4,593.0h1.7v1.7h-1.7z M468.1,661.1h2.1v2.1h-2.1z M452.9,619.9h1.6v1.6h-1.6z M461.0,661.9h1.5v1.5h-1.5z M455.5,641.1h2.2v2.2h-2.2z M471.9,637.7h2.4v2.4h-2.4z M518.8,608.1h1.9v1.9h-1.9z M422.6,647.2h1.4v1.4h-1.4z M417.3,630.9h1.6v1.6h-1.6z M494.2,644.2h1.7v1.7h-1.7z M500.5,638.2h2.1v2.1h-2.1z M458.6,621.9h1.5v1.5h-1.5z M461.1,661.6h2.3v2.3h-2.3z M404.6,594.4h1.6v1.6h-1.6z M490.8,622.3h1.5v1.5h-1.5z M454.5,632.6h2.2v2.2h-2.2z M451.4,638.4h2.1v2.1h-2.1z M404.4,625.0h1.3v1.3h-1.3z M406.8,618.7h1.9v1.9h-1.9z M411.3,661.5h2.3v2.3h-2.3z M462.7,633.7h1.7v1.7h-1.7z M438.1,605.8h2.3v2.3h-2.3z M465.7,620.2h1.8v1.8h-1.8z M516.8,608.6h2.2v2.2h-2.2z M492.6,623.1h1.7v1.7h-1.7z M456.0,623.4h1.7v1.7h-1.7z M481.2,620.2h1.7v1.7h-1.7z M501.3,623.6h1.9v1.9h-1.9z M515.7,623.6h1.8v1.8h-1.8z M518.2,663.2h2.2v2.2h-2.2z M451.2,640.0h2.2v2.2h-2.2z M437.0,644.0h2.4v2.4h-2.4z M485.5,639.8h1.8v1.8h-1.8z M485.2,606.2h2.2v2.2h-2.2z M469.8,663.5h1.7v1.7h-1.7z M453.2,647.2h1.6v1.6h-1.6z M479.8,605.8h1.8v1.8h-1.8z M475.7,651.4h2.3v2.3h-2.3z M449.8,633.9h2.1v2.1h-2.1z M499.8,645.7h2.0v2.0h-2.0z M431.0,642.6h2.0v2.0h-2.0z M470.5,664.0h1.5v1.5h-1.5z M502.4,613.7h2.2v2.2h-2.2z M525.3,609.9h2.0v2.0h-2.0z M468.3,626.6h1.5v1.5h-1.5z M481.4,656.9h2.1v2.1h-2.1z M436.0,650.3h1.8v1.8h-1.8z M416.6,635.0h1.9v1.9h-1.9z M468.5,664.3h2.0v2.0h-2.0z M437.6,641.6h2.1v2.1h-2.1z M508.8,617.9h1.6v1.6h-1.6z M445.4,629.8h1.4v1.4h-1.4z M447.6,639.0h1.5v1.5h-1.5z M439.0,655.3h2.4v2.4h-2.4z M430.7,602.5h1.5v1.5h-1.5z M408.6,649.3h2.2v2.2h-2.2z M432.7,626.2h2.1v2.1h-2.1z M513.0,605.1h2.1v2.1h-2.1z M491.4,614.6h2.3v2.3h-2.3z M426.5,625.0h1.7v1.7h-1.7z M456.7,650.7h2.0v2.0h-2.0z M479.3,664.0h1.6v1.6h-1.6z M427.1,636.1h1.5v1.5h-1.5z M456.4,621.8h2.3v2.3h-2.3z M520.6,640.5h1.5v1.5h-1.5z M444.9,642.7h1.6v1.6h-1.6z M516.2,655.3h1.6v1.6h-1.6z M446.2,606.4h2.1v2.1h-2.1z M403.4,641.9h1.4v1.4h-1.4z M510.6,630.3h2.0v2.0h-2.0z M409.9,592.4h1.7v1.7h-1.7z M410.7,590.6h2.1v2.1h-2.1z M420.8,609.7h2.1v2.1h-2.1z M490.9,613.5h1.9v1.9h-1.9z M436.0,631.7h1.7v1.7h-1.7z M445.6,607.9h1.7v1.7h-1.7z M438.9,634.0h1.6v1.6h-1.6z M412.3,653.3h1.9v1.9h-1.9z M466.1,612.7h2.3v2.3h-2.3z M498.8,636.3h2.1v2.1h-2.1z M490.5,627.0h1.8v1.8h-1.8z M449.7,627.3h1.9v1.9h-1.9z M468.4,629.5h2.2v2.2h-2.2z M517.5,606.0h1.4v1.4h-1.4z M504.5,636.1h1.7v1.7h-1.7z M422.8,655.0h2.3v2.3h-2.3z M489.3,641.6h2.2v2.2h-2.2z M458.4,619.2h2.0v2.0h-2.0z M515.9,664.3h2.4v2.4h-2.4z M430.3,662.8h1.9v1.9h-1.9z M466.5,612.5h2.3v2.3h-2.3z M466.8,664.3h1.4v1.4h-1.4z M417.0,618.6h2.1v2.1h-2.1z M411.9,631.7h2.4v2.4h-2.4z M455.8,646.9h2.0v2.0h-2.0z M475.6,602.2h1.9v1.9h-1.9z M518.5,640.2h1.6v1.6h-1.6z M457.3,630.3h1.7v1.7h-1.7z M475.0,637.0h1.4v1.4h-1.4z M426.7,638.9h1.6v1.6h-1.6z M406.8,646.9h1.7v1.7h-1.7z M410.7,637.4h1.6v1.6h-1.6z M506.9,644.0h2.2v2.2h-2.2z M404.7,591.6h2.2v2.2h-2.2z M416.0,604.3h1.4v1.4h-1.4z M419.1,625.0h2.4v2.4h-2.4z M440.4,608.7h2.3v2.3h-2.3z M421.9,637.3h2.0v2.0h-2.0z M473.0,618.1h2.3v2.3h-2.3z M431.1,643.3h1.5v1.5h-1.5z M463.8,662.6h1.6v1.6h-1.6z M434.7,658.7h2.1v2.1h-2.1z M405.9,603.2h1.6v1.6h-1.6z M436.1,653.2h2.1v2.1h-2.1z M481.8,618.1h2.1v2.1h-2.1z M463.4,618.2h1.9v1.9h-1.9z M403.6,591.1h2.5v2.5h-2.5z M447.1,614.1h1.5v1.5h-1.5z M477.0,658.5h1.5v1.5h-1.5z M464.5,627.0h2.2v2.2h-2.2z M473.3,607.2h1.5v1.5h-1.5z M422.6,624.6h2.3v2.3h-2.3z M480.6,645.7h2.2v2.2h-2.2z M418.9,591.9h1.4v1.4h-1.4z M515.4,618.0h1.4v1.4h-1.4z M403.3,653.3h2.0v2.0h-2.0z M412.2,610.8h1.5v1.5h-1.5z M412.1,604.2h2.1v2.1h-2.1z M419.7,601.8h1.9v1.9h-1.9z M447.7,600.4h2.0v2.0h-2.0z M465.6,618.5h1.9v1.9h-1.9z M402.4,635.7h1.6v1.6h-1.6z M516.8,633.7h1.8v1.8h-1.8z M470.1,660.4h1.5v1.5h-1.5z M448.8,642.8h1.8v1.8h-1.8z M492.4,658.0h1.4v1.4h-1.4z M435.4,611.3h2.2v2.2h-2.2z M502.9,642.2h2.4v2.4h-2.4z M422.1,618.9h2.3v2.3h-2.3z M513.9,616.5h2.0v2.0h-2.0z M474.9,656.6h2.5v2.5h-2.5z M510.3,638.8h2.4v2.4h-2.4z M416.4,619.7h2.0v2.0h-2.0z M414.8,648.3h1.4v1.4h-1.4z M481.9,610.3h1.7v1.7h-1.7z M478.9,603.5h1.8v1.8h-1.8z M512.7,664.0h1.6v1.6h-1.6z M446.4,641.7h1.5v1.5h-1.5z M511.6,604.1h2.0v2.0h-2.0z M397.1,589.1h1.7v1.7h-1.7z M434.2,664.3h2.1v2.1h-2.1z M405.8,643.4h1.6v1.6h-1.6z M462.0,643.9h2.3v2.3h-2.3z M439.9,619.2h1.7v1.7h-1.7z M497.1,624.2h2.1v2.1h-2.1z M417.5,648.5h2.4v2.4h-2.4z M424.4,635.9h1.5v1.5h-1.5z M401.8,620.5h1.5v1.5h-1.5z M495.6,632.5h2.1v2.1h-2.1z M410.3,591.7h1.9v1.9h-1.9z M508.3,641.0h2.0v2.0h-2.0z M512.6,617.3h1.5v1.5h-1.5z M418.8,593.9h1.9v1.9h-1.9z M414.3,634.9h2.3v2.3h-2.3z M443.5,598.1h2.1v2.1h-2.1z M495.3,656.2h2.0v2.0h-2.0z M475.6,654.6h2.1v2.1h-2.1z M501.5,637.1h1.9v1.9h-1.9z M432.6,634.7h1.9v1.9h-1.9z M414.8,635.1h2.1v2.1h-2.1z M436.2,623.6h1.9v1.9h-1.9z M505.5,619.0h2.4v2.4h-2.4z M462.3,619.2h1.9v1.9h-1.9z M445.2,665.0h1.4v1.4h-1.4z M417.1,621.2h2.0v2.0h-2.0z M500.1,622.8h1.7v1.7h-1.7z M446.7,656.5h1.6v1.6h-1.6z M415.4,656.7h2.2v2.2h-2.2z M405.7,640.3h1.6v1.6h-1.6z M457.2,635.0h1.4v1.4h-1.4z M523.3,614.5h1.5v1.5h-1.5z M460.5,657.4h2.2v2.2h-2.2z M424.9,592.4h2.0v2.0h-2.0z M460.5,611.9h2.4v2.4h-2.4z M425.1,637.9h1.4v1.4h-1.4z M480.4,613.3h2.2v2.2h-2.2z M519.0,649.4h1.4v1.4h-1.4z M470.8,661.2h2.3v2.3h-2.3z M430.6,630.9h1.7v1.7h-1.7z M419.7,645.5h2.2v2.2h-2.2z M442.5,620.9h2.1v2.1h-2.1z M495.2,624.2h1.5v1.5h-1.5z M409.9,601.9h2.3v2.3h-2.3z M464.0,638.0h1.7v1.7h-1.7z M446.8,602.4h2.4v2.4h-2.4z M491.9,634.4h2.0v2.0h-2.0z"/>
<path fill="#000" d="M418.6,626.1h2.5v2.5h-2.5z M424.2,613.8h2.2v2.2h-2.2z M407.5,614.0h1.8v1.8h-1.8z M415.1,610.5h1.8v1.8h-1.8z M420.7,637.8h2.2v2.2h-2.2z M420.6,612.5h2.2v2.2h-2.2z M404.0,608.2h1.5v1.5h-1.5z M419.4,645.2h1.8v1.8h-1.8z M407.6,596.1h1.6v1.6h-1.6z M414.9,643.4h1.5v1.5h-1.5z M404.1,635.3h1.7v1.7h-1.7z M421.6,610.5h2.0v2.0h-2.0z M402.6,606.7h1.9v1.9h-1.9z M404.8,633.5h1.4v1.4h-1.4z M414.9,638.0h1.8v1.8h-1.8z M402.4,596.3h1.5v1.5h-1.5z M419.2,625.8h1.4v1.4h-1.4z M409.7,625.5h1.8v1.8h-1.8z M406.9,648.3h1.8v1.8h-1.8z M422.8,642.0h2.1v2.1h-2.1z M399.7,594.6h1.9v1.9h-1.9z M413.2,643.7h2.5v2.5h-2.5z M418.2,628.4h2.0v2.0h-2.0z M418.8,629.8h1.6v1.6h-1.6z M411.8,614.2h2.0v2.0h-2.0z M417.0,631.0h2.1v2.1h-2.1z M419.1,639.3h1.5v1.5h-1.5z M401.1,591.9h1.6v1.6h-1.6z M423.9,607.9h1.9v1.9h-1.9z M410.0,623.4h1.7v1.7h-1.7z M418.8,609.2h2.4v2.4h-2.4z M412.3,594.7h2.5v2.5h-2.5z M418.5,625.0h2.2v2.2h-2.2z M408.6,620.8h1.6v1.6h-1.6z M409.9,604.7h2.2v2.2h-2.2z M400.0,597.4h1.6v1.6h-1.6z M411.9,624.5h1.4v1.4h-1.4z M424.6,640.0h1.9v1.9h-1.9z M424.4,599.9h2.3v2.3h-2.3z M419.9,646.2h1.7v1.7h-1.7z M400.4,599.0h1.7v1.7h-1.7z M422.2,644.5h2.0v2.0h-2.0z M400.6,610.5h1.7v1.7h-1.7z M415.2,632.9h2.3v2.3h-2.3z M409.2,616.9h2.0v2.0h-2.0z M407.4,616.8h2.2v2.2h-2.2z M416.9,608.9h2.1v2.1h-2.1z M401.1,591.8h1.9v1.9h-1.9z M407.1,591.0h1.5v1.5h-1.5z M408.9,646.5h2.4v2.4h-2.4z M407.3,608.0h1.6v1.6h-1.6z M413.5,640.2h1.9v1.9h-1.9z M401.9,595.4h1.4v1.4h-1.4z M418.4,603.1h2.3v2.3h-2.3z M419.1,594.1h1.6v1.6h-1.6z M405.8,635.9h2.3v2.3h-2.3z M405.5,616.6h1.8v1.8h-1.8z M410.2,637.4h1.7v1.7h-1.7z M419.7,645.1h2.1v2.1h-2.1z M423.9,646.2h1.6v1.6h-1.6z M424.8,601.2h2.4v2.4h-2.4z M400.4,607.5h1.9v1.9h-1.9z M420.5,630.5h1.6v1.6h-1.6z M422.1,641.8h2.0v2.0h-2.0z M405.2,614.5h2.5v2.5h-2.5z M413.7,639.0h1.5v1.5h-1.5z M403.9,633.6h1.8v1.8h-1.8z M403.4,592.8h1.5v1.5h-1.5z M408.5,622.3h1.9v1.9h-1.9z M412.8,606.7h1.4v1.4h-1.4z M415.9,609.5h2.0v2.0h-2.0z M407.6,605.5h1.5v1.5h-1.5z M405.3,607.2h1.5v1.5h-1.5z M407.1,616.1h2.0v2.0h-2.0z M419.0,622.9h2.0v2.0h-2.0z M406.6,634.8h2.0v2.0h-2.0z M419.2,640.0h2.5v2.5h-2.5z M417.3,630.1h2.0v2.0h-2.0z M411.9,624.3h2.0v2.0h-2.0z M419.9,641.3h1.5v1.5h-1.5z M418.1,626.6h2.1v2.1h-2.1z M422.4,592.0h2.0v2.0h-2.0z M407.5,646.9h1.6v1.6h-1.6z M412.8,597.8h2.3v2.3h-2.3z M410.7,633.9h1.8v1.8h-1.8z M403.3,633.7h2.5v2.5h-2.5z M418.8,605.8h1.5v1.5h-1.5z M416.9,633.6h1.5v1.5h-1.5z M423.2,621.2h1.4v1.4h-1.4z M410.4,609.6h1.5v1.5h-1.5z M421.8,646.0h1.5v1.5h-1.5z M409.5,605.7h2.2v2.2h-2.2z M400.1,609.3h1.9v1.9h-1.9z M410.2,615.5h2.1v2.1h-2.1z M423.3,645.8h2.5v2.5h-2.5z M420.2,602.9h1.7v1.7h-1.7z M409.9,628.2h2.1v2.1h-2.1z M406.8,649.5h1.8v1.8h-1.8z M402.9,633.6h2.4v2.4h-2.4z M403.8,637.0h2.5v2.5h-2.5z M404.4,595.2h2.6v2.6h-2.6z M424.2,632.7h2.0v2.0h-2.0z M417.9,635.8h2.0v2.0h-2.0z M404.6,621.0h2.2v2.2h-2.2z M406.1,628.0h1.6v1.6h-1.6z M424.2,601.9h1.7v1.7h-1.7z M423.9,647.0h2.5v2.5h-2.5z M420.6,640.8h2.4v2.4h-2.4z M412.9,593.5h2.3v2.3h-2.3z M420.4,640.1h1.5v1.5h-1.5z M410.7,643.5h2.6v2.6h-2.6z M409.5,630.2h2.2v2.2h-2.2z M416.4,611.4h2.2v2.2h-2.2z M417.3,638.0h2.0v2.0h-2.0z M402.7,616.5h2.2v2.2h-2.2z M412.3,595.6h1.4v1.4h-1.4z M408.1,603.9h1.7v1.7h-1.7z M403.2,614.4h2.2v2.2h-2.2z M422.6,630.3h1.4v1.4h-1.4z M421.3,626.1h2.3v2.3h-2.3z M414.2,610.6h1.8v1.8h-1.8z M422.5,629.7h2.1v2.1h-2.1z M419.6,647.5h2.4v2.4h-2.4z M424.7,617.0h1.4v1.4h-1.4z M414.2,627.9h2.4v2.4h-2.4z M414.1,611.2h1.4v1.4h-1.4z M420.3,627.1h2.6v2.6h-2.6z M413.6,641.0h2.3v2.3h-2.3z M424.7,617.2h2.5v2.5h-2.5z M406.1,610.4h2.6v2.6h-2.6z M408.1,605.8h2.2v2.2h-2.2z M399.7,607.6h1.9v1.9h-1.9z M408.8,637.9h1.8v1.8h-1.8z M424.4,600.9h2.0v2.0h-2.0z M403.3,589.9h1.8v1.8h-1.8z M422.1,606.8h2.0v2.0h-2.0z M411.7,605.2h2.0v2.0h-2.0z M405.0,638.7h2.3v2.3h-2.3z M416.6,625.3h2.4v2.4h-2.4z M417.7,592.4h1.6v1.6h-1.6z M417.9,640.2h2.6v2.6h-2.6z M418.7,598.6h2.1v2.1h-2.1z M414.5,625.9h1.6v1.6h-1.6z M424.1,620.1h1.7v1.7h-1.7z M424.5,612.5h1.5v1.5h-1.5z M415.7,604.8h1.7v1.7h-1.7z M405.5,626.0h1.8v1.8h-1.8z M415.6,644.2h2.6v2.6h-2.6z M421.9,645.2h1.7v1.7h-1.7z M420.1,594.5h2.1v2.1h-2.1z M399.1,595.0h2.5v2.5h-2.5z M419.2,592.7h2.5v2.5h-2.5z M419.9,619.3h1.9v1.9h-1.9z M422.9,630.4h1.5v1.5h-1.5z M417.2,631.8h1.8v1.8h-1.8z M418.6,624.3h1.9v1.9h-1.9z M411.7,605.8h1.7v1.7h-1.7z M421.9,610.3h2.3v2.3h-2.3z M407.3,600.6h1.4v1.4h-1.4z M424.0,634.8h2.6v2.6h-2.6z M413.5,592.8h1.6v1.6h-1.6z M414.4,647.3h1.8v1.8h-1.8z M403.5,602.5h1.6v1.6h-1.6z M408.8,611.5h2.5v2.5h-2.5z M405.8,639.5h2.0v2.0h-2.0z M399.9,590.8h2.1v2.1h-2.1z M421.5,592.1h2.2v2.2h-2.2z M403.5,630.9h2.4v2.4h-2.4z M417.4,603.9h1.6v1.6h-1.6z M424.1,644.9h2.5v2.5h-2.5z M412.2,592.1h1.8v1.8h-1.8z M422.5,593.1h1.8v1.8h-1.8z M406.9,594.0h1.8v1.8h-1.8z M402.7,615.4h2.1v2.1h-2.1z M415.4,594.9h2.0v2.0h-2.0z M419.6,605.0h2.4v2.4h-2.4z M403.8,613.0h2.4v2.4h-2.4z M412.0,632.6h2.5v2.5h-2.5z M416.4,602.6h1.6v1.6h-1.6z M410.5,606.2h2.1v2.1h-2.1z M408.7,592.0h1.5v1.5h-1.5z M423.2,640.8h2.5v2.5h-2.5z M407.9,649.0h1.6v1.6h-1.6z M417.3,646.5h1.7v1.7h-1.7z M414.0,618.1h1.5v1.5h-1.5z M415.0,597.4h1.6v1.6h-1.6z M413.6,628.3h2.4v2.4h-2.4z M420.1,597.4h1.8v1.8h-1.8z M401.0,619.0h1.4v1.4h-1.4z M421.3,630.6h2.4v2.4h-2.4z M410.7,644.6h2.4v2.4h-2.4z M420.2,638.2h1.7v1.7h-1.7z M406.7,592.4h2.3v2.3h-2.3z M410.3,649.2h1.7v1.7h-1.7z M409.1,641.9h2.6v2.6h-2.6z M418.2,642.8h2.5v2.5h-2.5z M404.6,626.6h1.5v1.5h-1.5z M415.9,647.1h2.0v2.0h-2.0z M401.1,623.7h1.5v1.5h-1.5z M409.9,593.9h1.9v1.9h-1.9z M419.9,634.1h2.4v2.4h-2.4z M409.8,615.9h1.5v1.5h-1.5z M419.1,623.8h1.9v1.9h-1.9z M401.1,617.0h1.5v1.5h-1.5z M400.4,593.8h1.9v1.9h-1.9z M414.1,641.9h2.1v2.1h-2.1z M401.5,605.9h2.4v2.4h-2.4z M413.4,628.4h2.2v2.2h-2.2z M409.1,640.5h2.5v2.5h-2.5z M413.6,604.8h1.5v1.5h-1.5z M412.6,614.0h2.5v2.5h-2.5z M402.8,601.5h1.4v1.4h-1.4z M421.4,598.4h1.4v1.4h-1.4z M413.1,604.0h2.1v2.1h-2.1z M422.5,634.6h1.7v1.7h-1.7z M414.0,606.7h2.3v2.3h-2.3z M404.2,642.0h2.2v2.2h-2.2z M422.0,610.1h2.5v2.5h-2.5z M413.3,604.7h2.2v2.2h-2.2z M405.7,595.9h1.4v1.4h-1.4z M414.1,603.8h1.5v1.5h-1.5z M418.7,597.7h2.3v2.3h-2.3z M404.6,611.2h2.5v2.5h-2.5z M420.2,639.9h2.6v2.6h-2.6z M413.9,646.0h2.1v2.1h-2.1z M413.3,608.8h1.9v1.9h-1.9z M413.0,604.1h2.2v2.2h-2.2z M421.2,632.9h1.7v1.7h-1.7z M409.2,640.6h2.1v2.1h-2.1z M411.5,626.0h2.1v2.1h-2.1z M416.0,623.0h2.1v2.1h-2.1z M403.6,596.5h1.9v1.9h-1.9z M421.8,646.7h1.8v1.8h-1.8z M413.1,620.6h1.9v1.9h-1.9z M399.4,602.9h1.7v1.7h-1.7z M402.7,600.8h1.5v1.5h-1.5z M411.7,599.5h2.2v2.2h-2.2z M413.8,627.1h2.0v2.0h-2.0z M414.1,607.0h2.0v2.0h-2.0z M416.3,602.1h2.3v2.3h-2.3z M413.4,648.5h2.1v2.1h-2.1z M412.4,635.9h1.7v1.7h-1.7z M407.4,615.4h2.3v2.3h-2.3z M417.1,600.3h2.5v2.5h-2.5z M424.5,619.2h2.6v2.6h-2.6z M414.4,612.5h1.5v1.5h-1.5z M417.1,626.6h2.3v2.3h-2.3z M409.2,634.3h2.1v2.1h-2.1z M414.8,622.5h2.2v2.2h-2.2z M412.7,594.5h2.2v2.2h-2.2z M416.7,615.1h2.6v2.6h-2.6z M410.5,599.1h2.0v2.0h-2.0z M407.0,599.1h2.5v2.5h-2.5z M402.0,632.4h1.6v1.6h-1.6z M411.5,649.8h1.5v1.5h-1.5z M424.4,644.4h1.9v1.9h-1.9z M414.9,617.1h1.6v1.6h-1.6z M407.0,615.9h2.4v2.4h-2.4z M410.2,622.7h2.4v2.4h-2.4z M413.8,608.7h2.5v2.5h-2.5z M413.8,605.5h2.1v2.1h-2.1z M421.3,591.8h2.2v2.2h-2.2z M410.7,606.6h1.6v1.6h-1.6z M403.5,615.7h1.9v1.9h-1.9z M413.8,605.5h2.1v2.1h-2.1z M410.3,637.5h2.4v2.4h-2.4z M403.6,648.6h2.1v2.1h-2.1z M406.4,604.5h2.3v2.3h-2.3z M409.2,630.7h1.7v1.7h-1.7z M421.1,605.1h2.4v2.4h-2.4z M409.3,613.5h2.1v2.1h-2.1z M411.6,622.4h2.1v2.1h-2.1z M423.6,634.3h1.5v1.5h-1.5z M404.7,590.8h1.6v1.6h-1.6z M410.9,640.5h1.4v1.4h-1.4z M401.6,589.8h1.5v1.5h-1.5z M405.8,618.9h2.6v2.6h-2.6z M415.1,641.1h2.1v2.1h-2.1z M422.5,630.1h1.7v1.7h-1.7z M407.4,618.3h1.5v1.5h-1.5z M422.9,618.5h1.6v1.6h-1.6z M410.8,638.1h1.7v1.7h-1.7z M413.5,594.6h1.7v1.7h-1.7z M402.2,619.8h2.2v2.2h-2.2z M403.4,631.0h2.1v2.1h-2.1z M418.0,649.7h1.8v1.8h-1.8z M424.9,616.8h2.0v2.0h-2.0z M402.0,594.2h2.2v2.2h-2.2z M399.9,591.1h1.5v1.5h-1.5z M412.2,601.0h1.7v1.7h-1.7z M418.5,616.2h1.6v1.6h-1.6z M416.0,649.7h2.1v2.1h-2.1z M409.5,621.8h2.2v2.2h-2.2z M420.5,636.9h1.7v1.7h-1.7z M418.8,595.3h1.6v1.6h-1.6z M411.2,600.3h2.1v2.1h-2.1z M405.0,646.5h1.9v1.9h-1.9z M419.8,646.6h1.9v1.9h-1.9z M418.5,619.0h1.9v1.9h-1.9z M422.8,631.0h1.8v1.8h-1.8z"/>
<g fill="none" stroke="#000" stroke-width="2.6" stroke-linejoin="round" stroke-linecap="round">
<path d="M373.5,630 C374,615 375,605 376.1,597.4 C377,590 378,587 378.7,584.5 C381,580 383.5,578.5 386.5,578 L394.3,578"/>
<path d="M536.9,581.9 C541,580 544,579.3 547.3,579.3 C550.5,580 552.5,582 553.8,584.5 C554.6,592 555,600 555,607.8 L555,633.7"/>
<path d="M411.1,493.5 C414,490 417,488 420.2,487.6"/>
<path d="M413.7,496.7 C425,501 437,503.5 448.7,504.5 C459,505.5 469,506 479.9,505.8 C489,505 498,502.5 505.8,499.3 C507.5,497 508.8,494 509.7,491.5" stroke-width="3.2"/>
<path d="M413.7,498 C416.5,504 419.5,510 422.8,516.1 C418,523 408,532 398,540 C394,544 390,547 383.9,552"/>
<path d="M505.8,500.6 C504,506 502.5,512 500.6,517.4 C510,526 522,535 536.9,544.7 C543,547.5 548,550 552.5,552"/>
<path d="M383.9,552 C387,560 389.5,565 391.7,568.9 C394,576 395.8,582 396.9,587 C398,595 399,601 399.5,607.8 L402,633.7 L403.3,660" stroke-width="3"/>
<path d="M552.5,552 C548.5,562 545,570 542.1,576.7 C538,584 535,591 531.7,597.4 C528.5,604 526,610 523.9,615.6 C522.5,622 521.8,628 521.3,633.7 L518.8,660" stroke-width="3"/>
<path d="M383.9,551.5 C400,553 420,554 441,554.6 C460,555.5 475,556 490.2,556 C510,555 530,553.5 552.5,551.5" stroke-width="3.2"/>
</g>
<path fill="none" stroke="#000" stroke-width="1.6" stroke-dasharray="2,3" d="M422.8,517.4 C433,519.5 443,520.8 453.9,521.3 C470,521 486,519.5 500.6,517.4"/>
<path fill="#fff" stroke="#000" stroke-width="2.6" stroke-linejoin="round" d="M440,533 C439.5,541 438.8,549 438.5,556.6 C439.5,563 440.5,569 441.6,575.3 C444.5,580 447.8,585 451,589.8 C452.5,594 453.8,598 455,602.2 C455.8,606 456.5,610.5 457,614.7 C457.8,619.5 458.5,624.5 459.2,629.2 C464,625.5 469,622 473.7,618.8 C478,615.5 482,612 486.2,608.5 C490.5,603.5 494.5,598.5 498.6,594 C501,591 503,588 504.9,585.6 C504.3,590 503.6,594 502.8,598 C500,603 497.2,607.8 494.5,612.6 C491.5,616 488.8,619.5 486.2,623 C484.8,626.5 483.3,630 482,633.4 C482.7,636.8 483.4,640.3 484.1,643.7 C486.2,646.5 488.2,649.2 490.3,652 L492,670 L418,670 C415,665 413,660 411.5,656 C418,646 425,630 430,618 C428,612 425,607 422,604 C418,601 414,598 409.4,594 C410,590 410,588 409.4,585.6 C414,589 419,592 424,595 C427,594 429,593 430.2,591.9 C429,587 427.8,582 427,577.3 C427.2,571.5 427.5,566 428,560.7 C429.3,556.5 430.8,552.5 432.2,548.3 C435,543 437.5,538 440,533 Z"/>
<path fill="#000" d="M447.7,631.6h1.2v1.2h-1.2z M426.6,627.4h1.4v1.4h-1.4z M423.0,602.7h1.4v1.4h-1.4z M439.6,649.7h1.7v1.7h-1.7z M433.1,565.1h1.2v1.2h-1.2z M481.0,631.0h1.4v1.4h-1.4z M457.7,634.4h1.8v1.8h-1.8z M453.6,617.5h1.8v1.8h-1.8z M485.2,631.5h1.9v1.9h-1.9z M435.3,615.1h1.8v1.8h-1.8z M434.6,583.3h1.9v1.9h-1.9z M441.0,598.1h1.6v1.6h-1.6z M468.4,629.9h2.0v2.0h-2.0z M483.6,626.7h2.2v2.2h-2.2z M437.9,601.0h2.2v2.2h-2.2z M425.8,645.0h2.2v2.2h-2.2z M484.8,637.9h1.4v1.4h-1.4z M446.6,603.1h2.0v2.0h-2.0z M438.9,620.6h1.3v1.3h-1.3z M436.1,558.0h1.8v1.8h-1.8z M464.4,625.4h1.6v1.6h-1.6z M462.9,642.0h1.4v1.4h-1.4z M439.1,608.8h1.8v1.8h-1.8z M436.0,600.5h1.7v1.7h-1.7z M444.3,611.8h1.3v1.3h-1.3z M435.8,564.2h1.2v1.2h-1.2z M459.2,628.0h1.6v1.6h-1.6z M429.3,627.4h1.3v1.3h-1.3z M447.1,591.0h1.5v1.5h-1.5z M474.7,638.6h2.1v2.1h-2.1z M445.3,585.8h1.8v1.8h-1.8z M455.7,638.7h1.8v1.8h-1.8z M426.7,620.6h1.4v1.4h-1.4z M496.2,598.3h1.5v1.5h-1.5z M440.7,650.6h1.5v1.5h-1.5z M434.9,607.1h1.9v1.9h-1.9z M442.3,626.5h1.7v1.7h-1.7z M473.4,621.5h1.3v1.3h-1.3z M440.1,570.8h1.5v1.5h-1.5z M459.1,630.1h1.4v1.4h-1.4z M447.5,637.2h1.3v1.3h-1.3z M451.2,607.6h1.3v1.3h-1.3z M460.8,627.5h1.8v1.8h-1.8z M439.3,563.6h2.0v2.0h-2.0z M439.0,592.4h1.2v1.2h-1.2z M460.8,648.9h1.7v1.7h-1.7z M451.5,614.9h1.6v1.6h-1.6z M434.8,625.7h1.4v1.4h-1.4z M466.4,627.6h2.0v2.0h-2.0z M448.0,629.7h1.2v1.2h-1.2z M461.9,627.5h2.1v2.1h-2.1z M431.0,633.8h1.7v1.7h-1.7z M485.4,619.1h1.4v1.4h-1.4z M430.0,569.3h1.2v1.2h-1.2z M435.6,650.0h1.6v1.6h-1.6z M453.2,647.5h1.9v1.9h-1.9z M454.1,628.9h1.9v1.9h-1.9z M477.0,629.0h1.8v1.8h-1.8z M424.1,628.7h1.4v1.4h-1.4z M445.4,627.5h1.3v1.3h-1.3z"/>
<path fill="none" stroke="#000" stroke-width="1.4" d="M436,668 C437,662 440,657 443,652 C443,657 443,662 444,667 M440,668 C441,663 442,659 443,655 M468,668 C470,662 472,658 475,652 C475,657 475,662 476,668 M479,668 C480,661 483,656 487,651 M491,668 C494,662 497,658 501,654 M424,650 C426,646 428,643 431,640"/>
<path fill="#000" d="M398.6,478.0h2.2v2.2h-2.2z M397.0,471.7h1.3v1.3h-1.3z M398.3,467.5h2.0v2.0h-2.0z M399.8,465.5h1.3v1.3h-1.3z M401.5,462.3h2.3v2.3h-2.3z M403.7,459.4h2.1v2.1h-2.1z M409.7,455.7h1.3v1.3h-1.3z"/>
<path fill="#000" d="M442.2,426.0h2.0v2.0h-2.0z M444.6,424.4h1.2v1.2h-1.2z M445.9,427.5h1.9v1.9h-1.9z M445.3,428.0h1.6v1.6h-1.6z M449.2,430.1h1.5v1.5h-1.5z M448.2,430.8h1.9v1.9h-1.9z M448.0,434.3h1.4v1.4h-1.4z M448.3,434.2h2.0v2.0h-2.0z M455.1,435.9h1.7v1.7h-1.7z M451.1,435.1h2.0v2.0h-2.0z M449.6,438.3h1.8v1.8h-1.8z M453.4,439.2h1.8v1.8h-1.8z M452.5,442.0h1.4v1.4h-1.4z M451.5,441.8h1.8v1.8h-1.8z M450.1,445.7h1.2v1.2h-1.2z M447.7,443.5h1.8v1.8h-1.8z M444.3,447.3h1.2v1.2h-1.2z M447.0,449.6h1.6v1.6h-1.6z M441.9,449.9h1.3v1.3h-1.3z M446.9,452.5h1.6v1.6h-1.6z M445.5,455.0h1.7v1.7h-1.7z M441.9,453.2h1.6v1.6h-1.6z M440.7,456.3h1.6v1.6h-1.6z M442.3,457.1h1.3v1.3h-1.3z M439.7,459.6h1.5v1.5h-1.5z M439.0,459.3h1.8v1.8h-1.8z M437.6,463.0h1.4v1.4h-1.4z M436.6,463.1h1.3v1.3h-1.3z M437.4,467.7h1.9v1.9h-1.9z M438.9,467.4h2.0v2.0h-2.0z M437.8,472.4h1.5v1.5h-1.5z M441.5,471.8h1.7v1.7h-1.7z M442.3,473.2h1.2v1.2h-1.2z M439.4,474.9h1.5v1.5h-1.5z M441.2,480.0h1.6v1.6h-1.6z M444.0,478.3h1.4v1.4h-1.4z M446.5,479.4h2.0v2.0h-2.0z M445.4,480.1h1.1v1.1h-1.1z M447.8,485.2h1.9v1.9h-1.9z M447.3,485.4h2.0v2.0h-2.0z M448.3,487.3h1.7v1.7h-1.7z M451.0,485.7h2.0v2.0h-2.0z M449.3,491.7h1.2v1.2h-1.2z M452.9,489.6h1.2v1.2h-1.2z"/>
<path fill="#000" d="M479.5,423.5h2.0v2.0h-2.0z M481.9,427.2h1.9v1.9h-1.9z M478.3,429.2h1.7v1.7h-1.7z M479.6,433.0h1.3v1.3h-1.3z M477.7,435.0h1.4v1.4h-1.4z M474.5,440.3h1.8v1.8h-1.8z M472.4,442.0h2.0v2.0h-2.0z M468.2,442.5h1.7v1.7h-1.7z M465.5,445.4h1.3v1.3h-1.3z M462.1,447.6h1.7v1.7h-1.7z M459.4,450.8h1.5v1.5h-1.5z M455.1,449.3h1.7v1.7h-1.7z M453.1,452.8h1.1v1.1h-1.1z"/>
<path fill="#000" d="M512.6,433.0h1.3v1.3h-1.3z M510.6,431.4h1.6v1.6h-1.6z M508.6,433.2h1.4v1.4h-1.4z M508.0,432.8h1.2v1.2h-1.2z M506.6,436.9h1.3v1.3h-1.3z M507.4,437.5h1.7v1.7h-1.7z M503.2,436.7h1.3v1.3h-1.3z M505.6,438.6h1.2v1.2h-1.2z M501.0,438.9h1.3v1.3h-1.3z M504.0,442.5h1.6v1.6h-1.6z M501.5,444.9h1.3v1.3h-1.3z M499.8,442.7h1.3v1.3h-1.3z M497.8,443.7h2.0v2.0h-2.0z M497.3,443.2h1.9v1.9h-1.9z M496.6,447.6h1.7v1.7h-1.7z M495.5,446.2h1.7v1.7h-1.7z M494.1,450.3h1.3v1.3h-1.3z M494.7,451.0h1.2v1.2h-1.2z M491.4,453.2h2.0v2.0h-2.0z M489.5,448.3h1.3v1.3h-1.3z M486.5,451.6h1.1v1.1h-1.1z M487.0,452.9h1.5v1.5h-1.5z M485.5,455.5h1.4v1.4h-1.4z M485.7,455.8h1.6v1.6h-1.6z M481.8,455.8h2.0v2.0h-2.0z M480.4,452.2h1.6v1.6h-1.6z M477.9,456.5h1.8v1.8h-1.8z M477.0,454.1h1.5v1.5h-1.5z M475.4,458.0h1.3v1.3h-1.3z M475.1,457.7h1.2v1.2h-1.2z M473.2,461.0h1.6v1.6h-1.6z M470.8,458.7h1.7v1.7h-1.7z M468.3,461.9h1.8v1.8h-1.8z M468.2,461.8h1.8v1.8h-1.8z M466.7,465.6h1.8v1.8h-1.8z M466.9,465.7h1.6v1.6h-1.6z M466.9,469.6h1.3v1.3h-1.3z M465.8,469.1h1.4v1.4h-1.4z M463.9,471.7h1.1v1.1h-1.1z M466.3,472.7h1.7v1.7h-1.7z M463.1,475.2h1.6v1.6h-1.6z M466.2,473.9h1.8v1.8h-1.8z M468.1,478.1h1.7v1.7h-1.7z M465.2,479.3h1.7v1.7h-1.7z M466.8,481.5h2.1v2.1h-2.1z M464.7,482.4h1.5v1.5h-1.5z M467.2,485.7h1.9v1.9h-1.9z M465.3,486.2h1.2v1.2h-1.2z M470.4,487.4h1.9v1.9h-1.9z M466.4,488.5h1.3v1.3h-1.3z M467.7,492.4h1.8v1.8h-1.8z M469.5,491.9h2.0v2.0h-2.0z M473.5,495.3h2.0v2.0h-2.0z M472.4,495.6h1.7v1.7h-1.7z"/>
<path fill="#000" d="M504.9,426.4h1.3v1.3h-1.3z M501.7,428.5h1.9v1.9h-1.9z M501.1,430.4h1.7v1.7h-1.7z M498.3,434.2h1.3v1.3h-1.3z M498.5,436.9h1.3v1.3h-1.3z M495.1,439.0h1.2v1.2h-1.2z M492.5,439.7h1.8v1.8h-1.8z M490.3,442.1h1.9v1.9h-1.9z"/>
<path fill="#000" d="M526.6,441.2h2.3v2.3h-2.3z M524.5,443.7h2.2v2.2h-2.2z M525.2,448.9h1.9v1.9h-1.9z M525.2,453.0h1.4v1.4h-1.4z M520.8,454.2h1.5v1.5h-1.5z M520.4,457.7h2.2v2.2h-2.2z M516.9,460.7h1.4v1.4h-1.4z M515.1,463.3h2.2v2.2h-2.2z M514.0,467.6h1.7v1.7h-1.7z M510.0,469.7h1.5v1.5h-1.5z M506.7,470.8h2.4v2.4h-2.4z M502.2,473.1h1.5v1.5h-1.5z M501.1,477.2h2.3v2.3h-2.3z M498.4,479.2h2.4v2.4h-2.4z M497.6,483.5h1.8v1.8h-1.8z M495.2,484.2h1.6v1.6h-1.6z M496.8,488.3h1.3v1.3h-1.3z M498.4,491.7h1.6v1.6h-1.6z"/>
<path fill="#000" d="M532.8,477.0h2.2v2.2h-2.2z M536.9,476.6h2.0v2.0h-2.0z M539.5,477.0h1.4v1.4h-1.4z M543.5,476.3h2.0v2.0h-2.0z M548.1,476.1h1.7v1.7h-1.7z M550.4,473.2h2.2v2.2h-2.2z M553.8,471.2h1.5v1.5h-1.5z M558.0,470.3h1.8v1.8h-1.8z"/>
<path fill="none" stroke="#000" stroke-width="2" stroke-dasharray="3.5,2" d="M416.5,434.7 C421,436 425,438 426.4,440.6 C425,444 423.5,447 422.4,450.5 C420.5,454.5 419,458 418.5,462.3 C419,466 419.5,469 420.5,472.2 C424,474 427.5,476 430.3,478.1 C431.5,482 433,486 434.3,489.9 L436.2,493.8"/>
<path fill="none" stroke="#000" stroke-width="2.2" d="M528.9,464.3 C532,465.5 535.5,466.5 538.7,468.2 C536.5,470 534,472 532.8,474.1 C531.5,476 531,478 530.8,480 C533.5,481.5 536,483 538.7,484"/>
</g>
</g>
<defs><clipPath id="aniclip"><path d="M784.5,406.2 C792.0,405.4 796.9,404.9 804.4,406.2 C811.9,407.4 821.0,410.8 829.3,413.7 C837.6,416.6 846.3,419.7 854.2,423.6 C862.1,427.5 870.4,432.5 876.6,437.3 C882.8,442.1 887.6,447.7 891.5,452.3 C895.4,456.9 897.6,460.6 900.0,464.7 C902.4,468.8 903.3,470.5 906.0,476.6 C908.7,482.7 913.9,493.2 916.0,501.5 C918.1,509.8 918.1,519.1 918.5,526.4 C918.9,533.6 919.1,536.9 918.5,545.0 C917.9,553.1 916.3,566.2 915.0,575.0 C913.7,583.8 913.8,590.3 910.7,598.0 C907.6,605.7 902.2,614.0 896.2,621.3 C890.2,628.6 882.9,636.6 874.4,641.7 C865.9,646.8 853.8,648.9 845.3,651.8 C836.8,654.7 831.1,657.4 823.6,659.0 C816.1,660.6 807.3,661.3 800.0,661.4 C792.7,661.5 787.1,660.6 779.6,659.5 C772.1,658.4 763.4,657.0 754.7,654.5 C746.0,652.0 734.6,647.9 727.3,644.6 C720.0,641.3 716.9,639.6 711.1,634.6 C705.3,629.6 697.9,622.1 692.4,614.7 C686.9,607.3 682.0,599.6 678.0,590.0 C674.0,580.4 670.5,567.3 668.7,556.8 C667.0,546.3 667.1,536.5 667.5,527.0 C667.9,517.5 669.6,507.9 671.2,499.6 C672.9,491.3 674.5,484.1 677.4,477.2 C680.3,470.3 683.2,465.1 688.6,458.5 C694.0,451.9 702.1,443.5 709.8,437.3 C717.5,431.1 726.4,425.5 734.7,421.1 C743.0,416.8 751.3,413.7 759.6,411.2 C767.9,408.7 777.0,407.0 784.5,406.2 Z"/></clipPath></defs>
<g clip-path="url(#aniclip)">
<path fill="none" stroke="#000" stroke-width="1.5" stroke-linecap="round" d="M857.0,572.8h0.9 M880.0,557.1h1.1 M904.0,566.9h0.8 M872.1,569.3h0.5 M902.9,557.7h0.6 M869.0,566.4h0.6 M914.5,562.2h0.6 M904.7,554.1h1.1 M878.1,568.2h0.7 M880.4,556.2h0.5 M908.2,557.8h1.0 M900.7,569.2h1.0 M853.9,565.7h1.1 M859.7,580.5h1.1 M874.9,562.1h0.8 M851.8,573.7h1.2 M881.2,566.2h0.9 M899.6,557.3h0.9 M885.6,570.5h0.6 M857.4,561.5h1.1 M870.3,569.7h0.7 M872.4,572.6h1.0 M909.5,566.2h0.8 M863.0,578.9h0.6 M901.5,565.9h1.1 M866.2,563.8h0.6 M850.1,561.2h1.1 M880.0,558.3h1.2 M883.4,574.0h0.5 M860.5,577.7h1.1 M876.1,569.2h1.1 M867.5,567.6h0.7 M892.0,578.1h0.9 M863.8,563.4h1.2 M911.1,554.4h0.5 M854.2,567.8h0.7 M881.1,557.2h0.6 M858.4,562.5h1.0 M857.8,573.5h0.7 M895.9,560.3h0.5 M873.4,560.2h1.1 M866.5,566.6h0.9 M914.2,553.3h0.9 M882.1,574.2h1.2 M867.6,573.1h0.9 M870.9,560.5h1.2 M900.5,564.8h0.9 M877.3,567.1h0.8 M874.3,557.4h0.5 M876.7,558.2h1.0 M878.3,557.8h0.8 M880.5,570.9h1.2 M851.2,565.8h0.8 M901.9,570.7h1.0 M893.8,578.3h1.0 M894.9,558.1h1.1 M873.2,570.3h1.1 M845.5,560.3h0.7 M867.1,581.1h1.0 M860.0,561.1h0.9 M894.8,558.6h1.2 M868.5,558.4h1.1 M856.2,572.5h0.6 M888.7,559.2h0.8 M913.7,565.4h0.8 M890.0,559.3h0.6 M873.1,559.0h0.6 M915.1,551.1h1.1 M896.1,557.9h0.5 M867.6,565.0h1.1"/>
<path fill="none" stroke="#000" stroke-width="1.5" stroke-linecap="round" d="M852.3,561.1h1.1 M856.4,578.8h0.5 M850.7,573.1h0.9 M851.0,591.1h1.1 M857.3,594.8h0.5 M854.2,558.6h1.1 M855.7,589.2h0.6 M849.5,591.7h0.9 M854.6,576.2h1.1 M852.0,567.1h0.7 M851.7,583.2h1.1 M849.6,558.0h0.8 M855.1,563.5h0.7 M849.5,556.7h0.8 M855.1,584.4h0.6 M849.9,596.9h0.9 M852.7,586.1h1.0 M853.7,558.5h1.1 M850.9,556.8h0.7 M853.8,583.3h0.6"/>
<path fill="none" stroke="#000" stroke-width="1.5" stroke-linecap="round" d="M817.3,578.1h0.7 M821.5,599.1h1.3 M819.3,605.5h1.0 M823.3,610.0h0.9 M824.3,607.8h1.2 M814.4,585.7h1.2 M819.3,594.6h1.3 M806.9,550.5h0.9 M799.9,546.8h0.9 M811.4,553.2h0.7 M808.7,587.9h1.2 M818.5,588.6h0.7 M808.9,570.3h0.9 M804.0,581.0h0.9 M813.6,598.8h1.1 M807.3,571.4h0.5 M815.9,584.0h1.0 M820.4,577.3h0.6 M811.0,575.9h0.9 M814.9,585.1h1.1 M822.0,595.3h0.8 M819.8,607.2h0.7 M821.4,604.7h0.6 M805.2,587.5h0.7 M816.5,564.8h0.7 M802.2,578.3h1.1 M806.1,588.5h0.8 M801.8,554.4h0.6 M816.9,572.7h0.6 M822.4,588.9h0.6 M817.7,584.8h0.9 M807.2,587.6h1.1 M807.0,568.2h1.2 M815.1,575.6h1.0 M809.6,559.8h1.0 M810.7,556.1h1.2 M805.8,567.0h0.7 M817.0,581.1h0.6 M798.9,558.6h1.0 M820.5,579.9h1.1 M822.7,596.7h1.0 M819.3,593.2h1.0 M800.9,567.8h1.1 M815.7,571.1h1.2 M819.8,595.5h0.7 M805.3,552.5h1.1 M809.3,560.5h0.8 M816.7,587.1h0.9 M812.7,569.4h0.7 M810.8,565.4h0.8 M808.8,558.4h0.6 M806.1,589.7h0.7 M815.5,575.2h1.1 M811.9,570.2h0.8 M813.8,600.7h1.1 M810.4,567.0h1.3 M816.4,596.7h1.1 M824.9,603.9h0.7 M801.0,571.5h1.0 M804.2,562.9h1.2 M814.4,594.8h1.2 M822.2,604.9h1.2 M817.0,579.4h1.3 M815.7,573.8h1.1 M804.8,553.7h0.9 M800.1,545.3h0.6 M809.6,596.1h0.6 M811.3,564.8h0.9 M817.4,572.7h0.9 M806.5,592.0h1.2 M814.8,565.9h1.1 M806.6,587.4h1.2 M801.0,568.2h0.7 M812.6,601.9h1.2 M803.6,559.5h0.9 M819.7,602.3h1.1 M805.6,565.4h0.9 M816.8,597.6h0.7 M822.4,606.1h0.6 M817.4,577.6h1.3 M805.3,554.5h1.1 M824.5,609.7h0.9 M813.2,569.4h1.0 M808.0,574.5h1.1 M801.6,565.0h1.2 M802.7,549.6h1.3 M800.8,572.5h0.8 M803.9,568.6h1.0 M797.5,550.3h0.7 M803.2,567.9h0.8"/>
<path fill="none" stroke="#000" stroke-width="1.5" stroke-linecap="round" d="M813.0,501.9h0.8 M812.3,502.3h0.7 M810.4,503.2h0.9 M812.0,501.5h1.1 M806.2,502.1h1.2 M809.3,505.6h0.5 M811.7,496.0h1.0 M808.1,500.0h0.7 M806.1,505.0h0.9 M810.5,493.7h0.7 M814.6,495.0h0.9 M811.4,499.7h0.9 M814.6,503.7h0.7 M808.2,498.3h1.0"/>
<path fill="none" stroke="#000" stroke-width="1.5" stroke-linecap="round" d="M886.8,498.7h1.0 M882.2,493.3h0.7 M881.2,497.3h1.0 M892.9,513.5h0.9 M890.3,503.8h0.9 M891.0,494.3h0.7 M881.1,500.5h0.8 M875.1,507.9h1.2 M878.4,497.1h0.7 M889.1,498.0h1.0 M877.3,506.1h1.0 M886.8,494.9h1.2 M890.1,503.6h1.1 M885.4,496.7h0.8 M889.6,503.2h0.5 M877.1,497.1h0.9 M886.2,502.9h0.8 M892.3,500.5h1.0 M877.9,504.3h0.6 M876.2,500.4h0.6 M881.2,507.4h0.9 M889.1,503.5h0.5"/>
<path fill="none" stroke="#000" stroke-width="1.5" stroke-linecap="round" d="M793.7,613.7h1.0 M796.7,619.1h0.7 M789.3,617.9h0.7 M786.2,613.5h1.0 M794.8,629.5h1.1 M794.6,614.1h0.9 M785.6,630.9h1.0 M788.2,616.8h0.7 M794.5,614.8h1.0 M796.1,630.2h0.8 M789.1,637.6h1.1 M787.3,611.9h1.0 M794.1,608.5h0.8 M796.5,600.0h0.7 M793.0,635.9h1.2 M790.6,630.8h1.2 M789.0,606.0h0.7 M794.4,602.1h0.9 M796.2,604.8h0.9 M791.4,638.5h0.8 M790.9,635.8h1.0 M786.7,631.4h0.8 M796.6,638.4h0.8 M790.0,606.0h0.7 M787.5,603.4h1.0"/>
<path fill="none" stroke="#000" stroke-width="1.5" stroke-linecap="round" d="M844.4,629.4h0.9 M837.3,623.3h0.7 M845.6,633.3h0.7 M842.8,615.3h0.7 M841.2,619.1h1.0 M837.8,638.7h0.9 M844.2,612.6h1.0 M845.9,636.4h0.9 M839.8,625.1h0.5 M846.4,612.3h1.0 M837.8,623.9h0.6 M847.9,615.5h0.9 M839.6,627.8h1.0 M847.1,613.9h0.8 M847.0,610.0h0.8 M844.9,634.0h0.7 M845.3,608.7h0.6 M842.7,625.9h0.9 M849.3,606.6h0.9 M842.7,610.4h1.1 M838.0,610.4h0.5 M845.0,626.3h0.6 M838.8,637.7h1.1 M840.4,634.6h0.6 M840.9,616.8h1.2"/>
<path fill="none" stroke="#000" stroke-width="1.5" stroke-linecap="round" d="M862.5,609.3h0.7 M875.5,599.2h1.2 M863.5,617.5h1.3 M861.7,616.4h1.1 M869.4,610.4h1.1 M862.9,597.8h0.5 M870.1,618.7h1.2 M858.9,623.6h0.9 M868.1,631.6h1.0 M865.9,622.3h0.7 M865.7,603.3h1.3 M862.1,590.9h0.7 M866.8,623.7h0.6 M863.4,626.4h0.8 M859.4,625.6h0.9 M872.4,614.2h1.2 M867.8,638.8h1.2 M873.0,614.5h1.0 M864.4,593.8h1.3 M864.5,618.6h1.2 M868.0,629.5h0.8 M871.9,629.8h1.0 M859.2,626.0h0.6 M860.2,624.8h1.3 M864.9,621.1h0.6 M855.4,593.9h1.3 M867.3,620.6h0.6 M859.9,629.0h1.2 M871.1,607.2h1.2 M862.8,621.2h1.0"/>
<g fill="none" stroke="#000" stroke-width="2.3" stroke-linejoin="round" stroke-linecap="round">
<ellipse cx="716" cy="495.5" rx="6" ry="5.5"/>
<path d="M721,497.3 C726,492 732,488 738.5,484.9 C736,487 734.5,489 733.5,491.1 C732,493 731.3,495 731,497.3"/>
<path d="M729.8,497.3 L729.8,504.8 C732.5,505.8 735.5,506 738.5,506 C742,505 746,503.5 749.7,502.3 C755,500 761,498 767.1,496.1 C773,494 778.5,492 784.6,489.9 C782,493 779.5,496 777.1,498.6 C774.5,501.5 772,504 769.6,506 C766.5,507.5 763.5,508.8 760.9,509.8"/>
<path d="M721,497.3 C720.5,502 720,507 719.8,512.3 C714,514 709,516 704.9,518.5 C700,521 696.5,523.5 693.7,526 C692.5,528 692.2,529.5 692.4,531 C696.5,531.8 700.5,532 704.9,531.6 L711.1,529.7"/>
<path d="M719.8,512.3 C715,516 712,519 711.1,522.2 C710.5,526 710.2,529 709.9,532.2 C708,535 706.5,537.5 704.9,539.7 C702.5,543 701,546.5 699.9,549.6 C699,553 698.6,556.5 698.7,559.9 C699.5,562.5 700.8,564.5 702.4,566.1 C705.5,566.8 708.5,567 711.1,566.8 C713.5,566.3 715.5,565.7 717.3,564.9 C720,563.3 722.5,561.5 724.8,559.9 C728,558.5 731.5,557.3 734.8,556.2 C738.5,555 742.3,553.7 746,552.4 C749,550.5 752,548.5 754.7,546.2 C757,545 759,544.3 760.9,543.7"/>
<path d="M757.2,557.4 C755.5,560 754,562.5 753.4,564.9 C754.2,567.5 755,570 755.9,572.4 C754.3,576.5 752.7,580.5 751,584.8 C749.3,587.8 747.7,590.7 746,593.5 C745.3,596.5 744.9,599.3 744.7,602.2 C744.9,605 745.4,608 746,611 C747.5,613.3 749.2,615.5 751,617.2 L755.9,617.2 C758.9,615.3 761.7,613 764.6,611 C768,608 771.2,605 774.6,602.2 C777.5,600 780.5,598 783.3,596 C785.5,593 787.5,590 789.5,587.3 C790.5,583.5 791.3,580 792,576.1"/>
<path d="M760.9,543.7 C759,548 757,552.5 754.7,556.2 C752,559 749.5,562 747.2,564.9 C745,567.5 743,570 741,572.4 C741.3,574 741.7,575.7 742.2,577.3 C744,579 745.6,580.7 747.2,582.3"/>
<path d="M760,518 C770,522 782,528 792,533 C797,536 800,538 802,542"/>
<path d="M760,508.1 C765.5,509 771,510.5 776.6,511.5 C788,514.5 800,518 811.5,521.4 C819,523 827,524.8 834.7,526.4 C843,527.5 851,528.5 859.6,529.7 C861.5,531 863.3,532.8 864.6,534.7 C864.2,536.5 863.6,538.2 862.9,539.7 L852.9,539.7 C847,538.5 840.8,537.4 834.7,536.3 C827.5,534.7 820.3,533 813.1,531.4" stroke-width="2.6"/>
<path d="M811.5,516.4 C807,527 803,538 798.2,549.6" stroke-width="3"/>
<path d="M784.9,513.1 C786.5,509.5 788,506 789.9,503.2 C791,502.5 792.5,502.2 794,502.3 C794.8,506 795.3,509.5 795.7,513.1"/>
<path d="M766.6,492.4 C771.5,488.8 776.5,485.2 781.6,481.6 C785.5,478.5 789.4,475.4 793.2,472.4 C796.5,471.5 799.8,470.6 803.2,470 C806.5,470.4 809.8,471 813.1,471.6 C819.2,474.3 825.3,477.1 831.4,479.9 C839.7,482.1 848,484.3 856.3,486.6"/>
<path d="M823.1,518.9 C834,508 845,497 856.3,486.6 C860.4,483.5 864.6,480.5 868.7,477.4 C871.2,478.8 873.7,480.2 876.2,481.6 C880,485.2 884,488.8 887.8,492.4 L891.1,493.2 C896.6,491.3 902.2,489.3 907.7,487.4 L918,486"/>
<path d="M796,551.6 C799,557.4 801.8,563.2 804.7,569 C806.1,572.9 807.6,576.8 809,580.7 C811,583.6 812.9,586.5 814.9,589.4 L823.6,588 C824.6,591.4 825.5,594.8 826.5,598.1 C826,602.9 825.5,607.8 825,612.6 C824,617.4 823.1,622.3 822.1,627.1 C822.6,632 823.1,636.8 823.6,641.7 L823.6,662"/>
<path d="M803.2,595.2 C801.8,601 800.3,606.8 798.9,612.6 C798.4,622.3 797.9,632 797.4,641.7"/>
<path d="M785.8,593.5 C784.6,612 783.3,631 782.1,649.5"/>
<path d="M855.5,580.7 C859.4,581.7 863.2,582.6 867.1,583.6 L881.7,583.6 C885.6,582.1 889.4,580.7 893.3,579.2 C898.1,575.8 903,572.4 907.8,569 C909.7,564.2 911.7,559.3 913.6,554.5"/>
<path d="M854,588 C853,592.8 852.1,597.6 851.2,602.4 C850.2,608.7 849.3,615 848.3,621.3 C847.3,623.2 846.3,625.2 845.3,627.1 C842.9,632 840.5,636.8 838.1,641.7 C836.2,646 834.2,650.4 832.3,654.7 L828,662"/>
<path d="M849.7,625.7 C853.6,631 857.4,636.4 861.3,641.7 C862.3,634.9 863.2,628.1 864.2,621.3 C866.1,615 868.1,608.7 870,602.4 C869,598 868.1,593.7 867.1,589.4"/>
<path d="M880.2,589.4 C881.7,594.7 883.1,600.1 884.6,605.4 C882.7,608.8 880.7,612.1 878.8,615.5 C876.9,621.3 874.9,627.2 873,633"/>
<path d="M900.5,577.8 C902.9,581.2 905.4,584.6 907.8,588"/>
<path d="M712.4,617.2 L717,614 L721,615 L725,611 L729,612 L734,609 L739.8,608.5" stroke-width="1.8"/>
<path d="M729.8,643.3 L733,640 L738,641 L742,636 L747,637 L751,633 L756,633 L762,630 L767.1,628.4" stroke-width="1.8"/>
</g>
<path fill="#000" d="M857,578 L875,582 L893,579 L888,586 L880,590 L872,598 L866,590 L858,589 Z"/>
<path fill="#000" d="M779.6,570 L787,568.6 L792,571 L790,577.3 L786,576 L781,573 Z"/>
<path fill="#000" d="M736.5,531.5 Q742,526.5 748,529.5 Q744,535.5 736.5,531.5 Z"/>
<path fill="none" stroke="#000" stroke-width="2.6" d="M758,513 C775,514.5 795,516 812,517.4 M761.6,519.9 C776,520.5 790,521.5 804.8,522.4"/>
<path fill="#000" d="M757.4,521.5 C758,526 758.8,530 760,532.3 C763,534.5 766.5,536 770,536.8 C774,537.3 778,537.3 782.3,536.8 C786.5,535.5 790.8,533.5 794.8,531.5 C798.5,529 801.8,526.5 805.5,523.5 L804.8,521.8 C790,521 776,520.3 761.6,519.9 Z"/>
<path fill="#fff" d="M762,524 L765,524 L764.5,529 L762.5,528 Z M769,525 L775,526.5 L774,531 L769,530 Z M779,526 L782,525.5 L784,531 L780,532 Z M787,525 L790,525 L789,530 Z M794,524.5 L797,524 L795,527.5 Z"/>
<path fill="none" stroke="#000" stroke-width="3" d="M757,515 C757.5,526 757,536 755.5,546"/>
<path fill="none" stroke="#000" stroke-width="2.3" d="M811.4,517 C806,526 801,535 796.5,544.8 L798,553 M781.5,542.3 C784.5,545 788,547.5 791.5,549"/>
<path fill="none" stroke="#000" stroke-width="2.2" d="M705,553 Q709,559 712,554"/>
</g>
<g class="c3">
<path d="M462.0,45.5 C472.0,45.4 482.0,47.3 490.0,49.8 C498.0,52.3 503.2,56.3 509.9,60.3 C516.5,64.3 523.9,69.4 529.9,73.6 C535.9,77.8 541.4,82.3 545.8,85.6 C550.2,88.9 552.9,89.5 556.4,93.5 C559.9,97.5 563.7,104.8 567.0,109.4 C570.3,114.0 573.9,117.3 576.4,121.3 C578.9,125.3 580.2,128.0 581.7,133.3 C583.2,138.6 584.6,146.4 585.7,153.0 C586.8,159.6 587.9,167.5 588.3,173.0 C588.7,178.5 589.3,180.4 588.3,186.0 C587.2,191.6 584.5,199.3 582.0,206.3 C579.5,213.3 576.7,221.2 573.3,228.0 C569.9,234.8 566.1,241.2 561.7,247.0 C557.3,252.8 552.0,257.9 547.1,263.0 C542.2,268.1 538.6,273.2 532.6,277.5 C526.6,281.8 518.1,285.9 510.8,289.0 C503.5,292.1 496.4,294.4 489.0,296.3 C481.6,298.2 476.1,300.5 466.5,300.5 C456.9,300.5 442.3,298.6 431.7,296.5 C421.1,294.4 411.8,291.7 402.6,287.8 C393.4,283.9 383.8,278.6 376.5,273.3 C369.2,268.0 364.3,262.1 359.0,255.8 C353.7,249.5 348.9,243.7 344.5,235.5 C340.1,227.3 335.1,218.8 332.9,206.5 C330.7,194.2 331.0,172.6 331.5,161.7 C332.0,150.8 334.1,147.4 335.8,141.3 C337.5,135.2 338.9,131.0 341.6,125.4 C344.3,119.9 347.7,113.6 351.8,108.0 C355.9,102.4 360.7,97.6 366.3,92.0 C371.9,86.4 378.7,79.8 385.2,74.5 C391.7,69.2 398.0,64.0 405.5,60.0 C413.0,56.0 420.6,52.9 430.0,50.5 C439.4,48.1 452.0,45.6 462.0,45.5 Z"/>
<path d="M126.2,398.3 C133.9,397.3 139.5,397.1 146.0,397.5 C152.5,397.9 159.1,399.4 165.0,400.5 C170.9,401.6 175.2,401.9 181.5,404.3 C187.8,406.7 195.8,410.3 203.0,415.1 C210.2,419.9 217.8,426.8 224.6,433.0 C231.4,439.2 238.9,446.6 243.7,452.2 C248.5,457.8 250.7,460.1 253.3,466.5 C255.9,472.9 257.8,482.4 259.2,490.4 C260.6,498.4 261.2,507.1 261.6,514.3 C262.0,521.5 262.2,526.3 261.6,533.5 C261.0,540.7 259.6,549.4 258.0,557.4 C256.4,565.4 254.8,574.1 252.0,581.3 C249.2,588.5 245.5,594.4 241.3,600.4 C237.1,606.4 232.6,612.0 227.0,617.2 C221.4,622.4 215.0,627.1 207.8,631.5 C200.6,635.9 191.0,640.8 183.9,643.5 C176.8,646.2 170.5,646.7 165.0,647.5 C159.5,648.3 157.5,648.0 151.0,648.5 C144.5,649.0 135.3,650.9 126.2,650.2 C117.1,649.5 104.6,647.0 96.3,644.4 C88.0,641.8 83.6,638.5 76.4,634.4 C69.2,630.2 60.1,625.9 53.2,619.5 C46.3,613.1 40.2,604.6 34.9,596.3 C29.6,588.0 25.3,578.8 21.6,569.7 C17.9,560.6 14.1,553.1 12.5,541.5 C10.9,529.9 11.0,512.0 12.0,500.0 C13.0,488.0 15.3,477.5 18.3,469.7 C21.3,461.9 24.5,459.4 30.0,453.0 C35.5,446.6 43.8,437.9 51.5,431.5 C59.2,425.1 68.4,419.6 76.4,414.9 C84.4,410.2 91.3,406.1 99.6,403.3 C107.9,400.5 118.5,399.3 126.2,398.3 Z"/>
<path d="M470.0,419.6 C478.9,420.0 488.7,418.6 498.7,420.8 C508.7,423.0 520.6,428.1 529.8,432.7 C539.0,437.3 546.6,442.5 553.8,448.3 C561.0,454.1 568.1,461.8 572.9,467.4 C577.7,473.0 579.7,475.4 582.5,481.8 C585.3,488.2 587.8,497.7 589.6,505.7 C591.4,513.7 592.6,521.6 593.2,529.6 C593.8,537.6 593.8,544.8 593.2,553.6 C592.6,562.4 591.4,574.3 589.6,582.3 C587.8,590.3 585.7,595.0 582.5,601.4 C579.3,607.8 575.3,614.6 570.5,620.6 C565.7,626.6 559.8,632.1 553.8,637.3 C547.8,642.5 541.4,647.7 534.6,651.7 C527.8,655.7 520.7,658.5 513.1,661.3 C505.5,664.1 496.3,666.9 489.1,668.4 C481.9,669.9 477.7,670.4 470.0,670.0 C462.3,669.6 451.2,668.2 442.7,666.0 C434.2,663.8 426.8,660.5 418.8,656.5 C410.8,652.5 402.8,648.1 394.8,642.1 C386.8,636.1 377.7,628.2 370.9,620.6 C364.1,613.0 358.7,606.2 354.1,596.6 C349.5,587.0 345.4,574.3 343.4,563.1 C341.4,551.9 341.2,540.4 342.2,529.6 C343.2,518.8 345.8,508.5 349.4,498.5 C353.0,488.5 357.3,479.0 363.7,469.8 C370.1,460.6 379.2,450.3 387.6,443.5 C396.0,436.7 404.4,433.3 414.0,429.1 C423.6,424.9 435.7,420.0 445.0,418.4 C454.3,416.8 461.1,419.2 470.0,419.6 Z"/>
<path d="M784.5,406.2 C792.0,405.4 796.9,404.9 804.4,406.2 C811.9,407.4 821.0,410.8 829.3,413.7 C837.6,416.6 846.3,419.7 854.2,423.6 C862.1,427.5 870.4,432.5 876.6,437.3 C882.8,442.1 887.6,447.7 891.5,452.3 C895.4,456.9 897.6,460.6 900.0,464.7 C902.4,468.8 903.3,470.5 906.0,476.6 C908.7,482.7 913.9,493.2 916.0,501.5 C918.1,509.8 918.1,519.1 918.5,526.4 C918.9,533.6 919.1,536.9 918.5,545.0 C917.9,553.1 916.3,566.2 915.0,575.0 C913.7,583.8 913.8,590.3 910.7,598.0 C907.6,605.7 902.2,614.0 896.2,621.3 C890.2,628.6 882.9,636.6 874.4,641.7 C865.9,646.8 853.8,648.9 845.3,651.8 C836.8,654.7 831.1,657.4 823.6,659.0 C816.1,660.6 807.3,661.3 800.0,661.4 C792.7,661.5 787.1,660.6 779.6,659.5 C772.1,658.4 763.4,657.0 754.7,654.5 C746.0,652.0 734.6,647.9 727.3,644.6 C720.0,641.3 716.9,639.6 711.1,634.6 C705.3,629.6 697.9,622.1 692.4,614.7 C686.9,607.3 682.0,599.6 678.0,590.0 C674.0,580.4 670.5,567.3 668.7,556.8 C667.0,546.3 667.1,536.5 667.5,527.0 C667.9,517.5 669.6,507.9 671.2,499.6 C672.9,491.3 674.5,484.1 677.4,477.2 C680.3,470.3 683.2,465.1 688.6,458.5 C694.0,451.9 702.1,443.5 709.8,437.3 C717.5,431.1 726.4,425.5 734.7,421.1 C743.0,416.8 751.3,413.7 759.6,411.2 C767.9,408.7 777.0,407.0 784.5,406.2 Z"/>
<path d="M449.9,752.3 C457.6,752.0 457.1,754.9 467.3,756.6 C477.5,758.3 498.3,759.0 510.9,762.4 C523.5,765.8 533.1,770.2 542.8,777.0 C552.5,783.8 562.2,793.9 569.0,803.1 C575.8,812.3 579.9,821.5 583.5,832.1 C587.1,842.8 589.6,855.9 590.8,867.0 C592.0,878.1 592.0,887.8 590.8,898.9 C589.6,910.0 587.6,922.7 583.5,933.8 C579.4,944.9 573.4,956.0 566.1,965.7 C558.9,975.4 549.2,985.1 540.0,991.9 C530.8,998.7 522.5,1003.2 510.9,1006.4 C499.3,1009.5 482.8,1010.5 470.2,1010.8 C457.6,1011.0 447.0,1010.6 435.4,1007.9 C423.8,1005.2 410.7,1000.4 400.5,994.8 C390.3,989.2 382.1,983.2 374.4,974.5 C366.6,965.8 359.3,953.2 354.0,942.5 C348.7,931.8 345.0,920.2 342.4,910.5 C339.8,900.8 338.8,892.6 338.1,884.4 C337.4,876.2 336.9,870.4 338.1,861.2 C339.3,852.0 341.2,839.9 345.3,829.2 C349.4,818.6 355.5,806.5 362.8,797.3 C370.1,788.1 379.2,780.5 388.9,774.0 C398.6,767.5 410.6,761.7 420.8,758.1 C431.0,754.5 442.1,752.5 449.9,752.3 Z"/>
</g>
<g class="a25">
<path d="M332.6,207.6 C327.8,209.2 312.8,213.4 304.0,217.5 C295.2,221.6 289.7,223.7 279.7,231.9 C269.7,240.1 254.4,255.5 243.8,266.6 C233.2,277.7 224.3,286.6 215.9,298.5 C207.5,310.4 199.0,326.7 193.3,338.3 C187.6,349.9 184.0,361.4 181.5,368.0 C179.0,374.6 179.0,376.3 178.5,378.0"/>
<path d="M588.0,187.0 C590.5,187.7 597.5,189.5 602.8,191.0 C608.1,192.5 614.3,194.5 620.0,196.1 C625.7,197.7 631.3,199.0 637.0,200.7 C642.7,202.4 648.5,204.3 654.2,206.4 C659.9,208.5 665.4,210.4 671.3,213.2 C677.2,215.9 683.7,219.5 689.5,222.9 C695.3,226.3 699.6,228.4 706.0,233.6 C712.4,238.8 721.1,247.4 728.0,254.0 C734.9,260.6 742.3,266.8 747.6,273.0 C752.9,279.2 756.4,284.9 760.0,291.0 C763.6,297.1 766.2,302.4 769.2,309.4 C772.2,316.4 775.1,324.7 778.0,333.0 C780.9,341.3 784.0,352.2 786.6,359.2 C789.2,366.2 792.4,372.4 793.5,375.0"/>
<path d="M688.0,456.5 C684.2,453.9 672.2,446.2 665.0,441.0 C657.8,435.8 651.2,431.2 644.5,425.2 C637.8,419.2 631.2,411.8 625.0,405.0 C618.8,398.2 613.7,392.2 607.1,384.7 C600.5,377.2 592.1,368.7 585.4,359.9 C578.7,351.1 572.7,340.6 566.7,331.8 C560.7,323.0 553.1,312.0 549.6,307.0 C546.1,302.0 546.6,302.8 546.0,302.0"/>
<path d="M644.5,427.2 C641.8,427.3 633.2,426.9 628.0,427.7 C622.8,428.5 618.0,429.8 613.0,432.0 C608.0,434.2 602.7,437.5 598.0,441.0 C593.3,444.5 587.2,451.0 585.0,453.0"/>
<path d="M336.3,867.8 C331.8,866.4 318.0,863.3 309.4,859.5 C300.8,855.7 292.1,851.2 284.5,845.0 C276.9,838.8 271.3,831.0 263.7,822.0 C256.1,813.0 246.4,802.4 238.8,791.0 C231.2,779.6 224.2,766.9 218.0,753.7 C211.8,740.5 205.6,723.3 201.5,712.0 C197.4,700.7 195.3,692.7 193.5,686.0 C191.7,679.3 191.0,674.3 190.5,672.0"/>
<path d="M467.5,301.4 L469.6,373"/>
<path d="M467.5,755 L468.3,697"/>
<path d="M556.9,92.7 C566,78 584,60 603,58.5 C621,57 632.5,66 632.3,81 C632,96 618,109 600,119"/>
<ellipse cx="598.4" cy="70.4" rx="1.8" ry="2.2" fill="#000"/>
</g>
<g class="ah">
<path d="M173.7,392.7 L171.5,374.3 L186,377.7 Z"/>
<path d="M797.3,390 L789.2,372.5 L800.2,372.5 Z"/>
<path d="M538.7,289.8 L540.2,307 L552.7,299.2 Z"/>
<path d="M572.9,463.3 L577.6,450.8 L588.5,461.7 Z"/>
<path d="M470.1,382.6 L462.2,372.4 L475.9,372.4 Z"/>
<path d="M469.9,679.9 L461.2,694.9 L468,698.5 L475.8,696.1 Z"/>
<path d="M185,658 L185.5,673.5 L196,670 Z"/>
<path d="M590.6,122.8 L597.9,111.4 L606.2,123.8 Z"/>
</g>
<path d="M954.5,1099.3 L958,1098.6 L959,1097.6 L960,1099 L963.5,1099" fill="none" stroke="#000" stroke-width="1"/>
<rect x="144.8" y="996" width="1.3" height="2" fill="#000"/>
<rect x="92" y="725.5" width="1.2" height="1.2" fill="#000"/>
</svg>
</body></html>
